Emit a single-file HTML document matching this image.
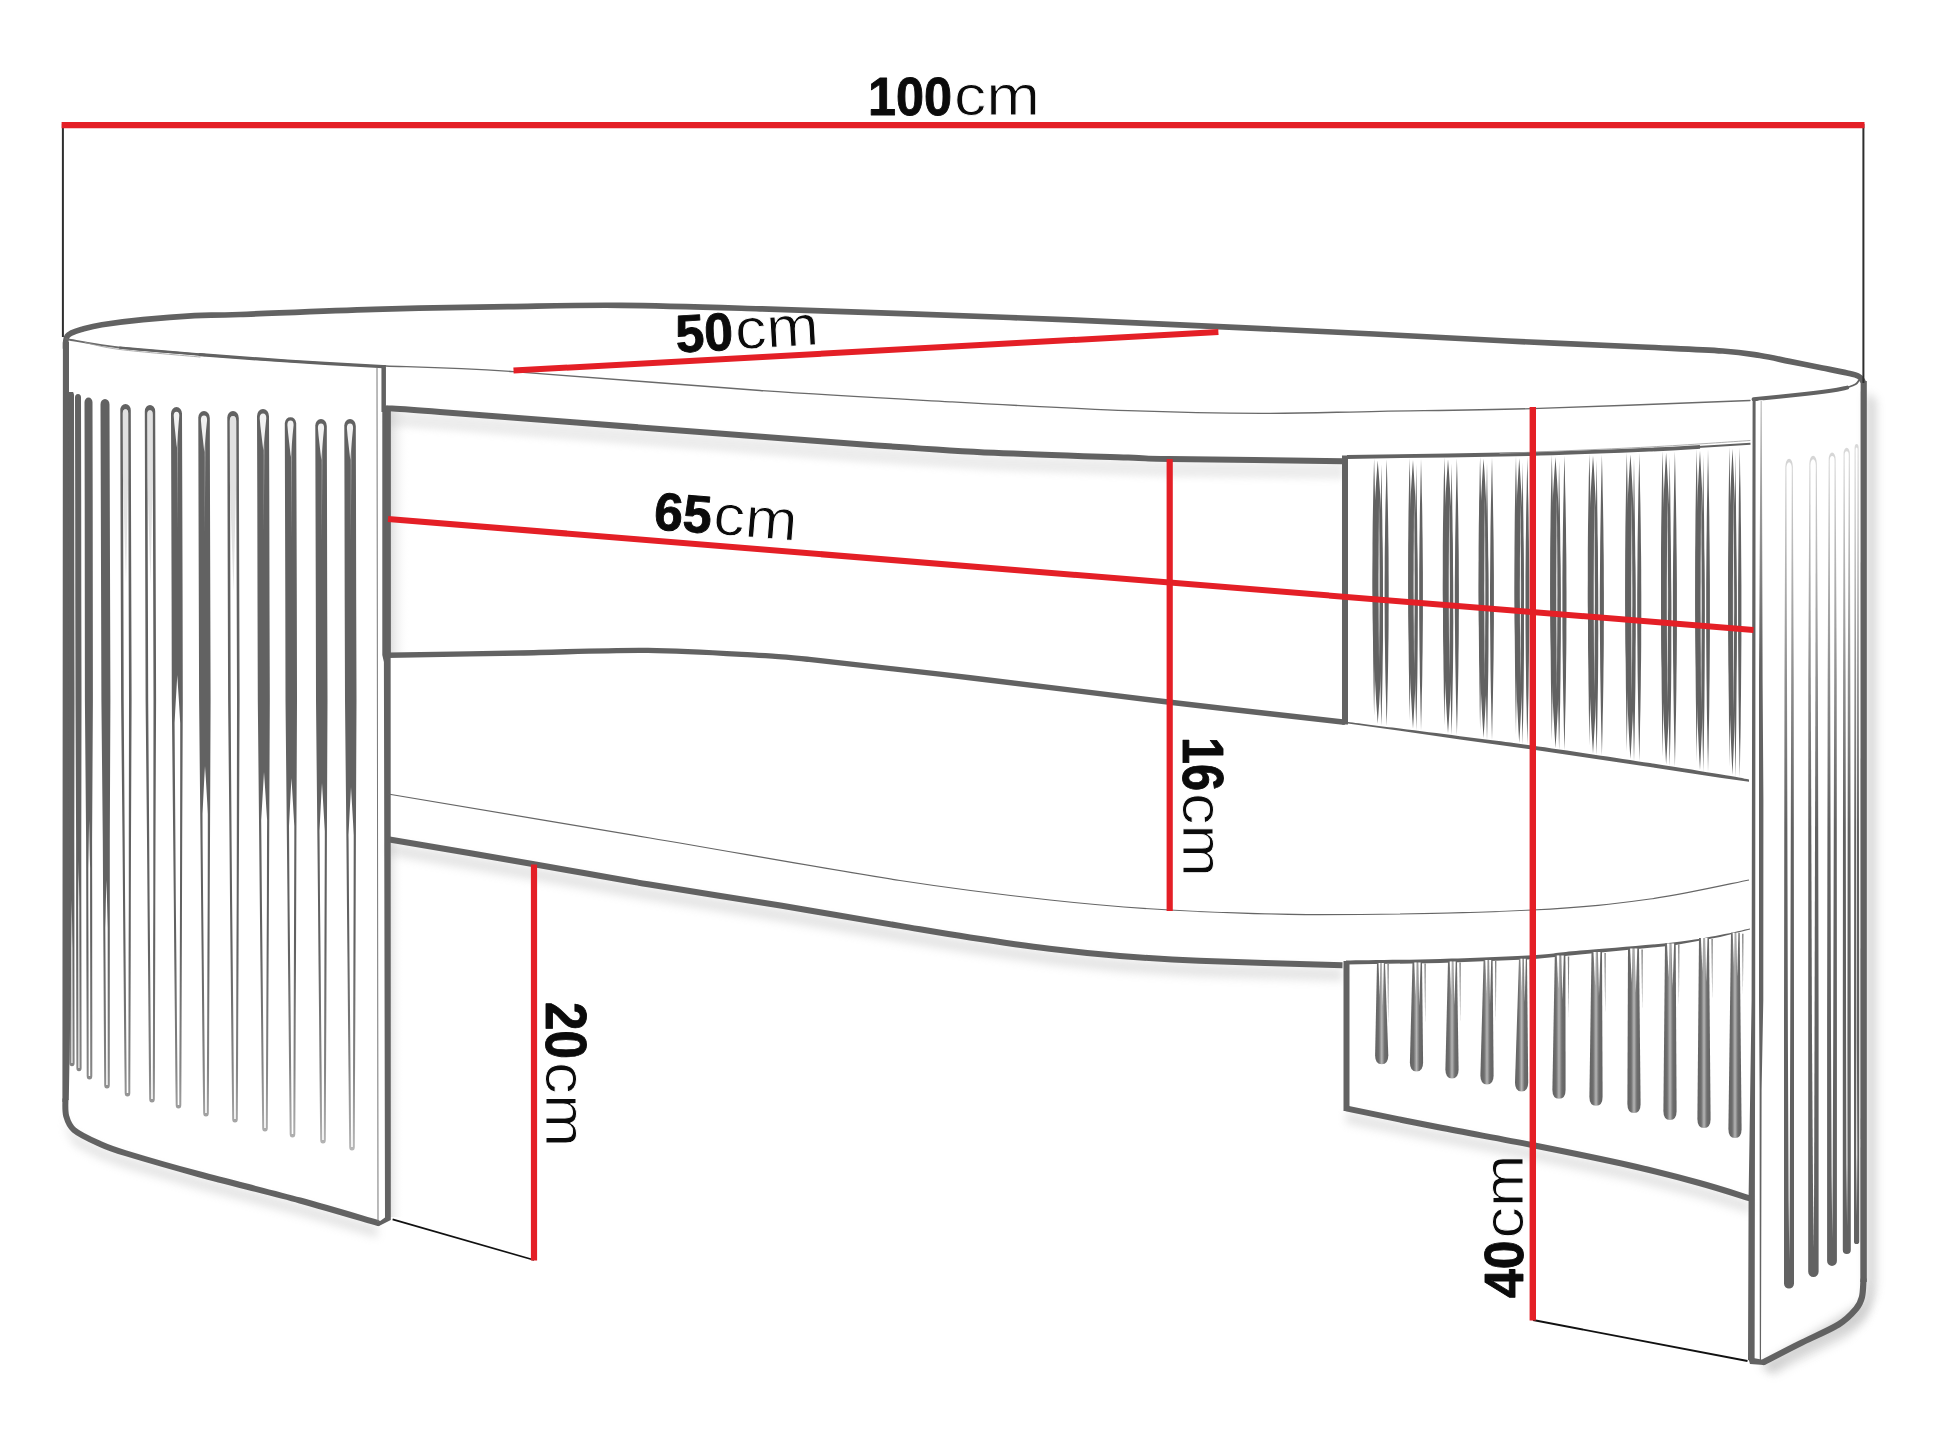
<!DOCTYPE html>
<html><head><meta charset="utf-8"><title>Table dimensions</title>
<style>html,body{margin:0;padding:0;background:#fff;}body{width:1940px;height:1455px;overflow:hidden;font-family:"Liberation Sans",sans-serif;}svg{display:block}</style>
</head><body>
<svg width="1940" height="1455" viewBox="0 0 1940 1455">
<defs>
<linearGradient id="gShR" x1="0" x2="1" y1="0" y2="0"><stop offset="0" stop-color="#8a8a8a" stop-opacity=".55"/><stop offset=".45" stop-color="#b8b8b8" stop-opacity=".25"/><stop offset="1" stop-color="#fff" stop-opacity="0"/></linearGradient>
<linearGradient id="gShL" x1="0" x2="1" y1="0" y2="0"><stop offset="0" stop-color="#999" stop-opacity=".5"/><stop offset="1" stop-color="#fff" stop-opacity="0"/></linearGradient>
<linearGradient id="gShD" x1="0" x2="0" y1="0" y2="1"><stop offset="0" stop-color="#999" stop-opacity=".5"/><stop offset="1" stop-color="#fff" stop-opacity="0"/></linearGradient>
<linearGradient id="fadeL" x1="0" x2="0" y1="380" y2="1160" gradientUnits="userSpaceOnUse"><stop offset="0" stop-color="#fff"/><stop offset=".72" stop-color="#fff"/><stop offset=".88" stop-color="#c8c8c8"/><stop offset="1" stop-color="#6a6a6a"/></linearGradient>
<mask id="mFadeL" maskUnits="userSpaceOnUse" x="60" y="380" width="330" height="800"><rect x="60" y="380" width="330" height="800" fill="url(#fadeL)"/></mask>
<linearGradient id="fadeR" x1="0" x2="0" y1="440" y2="1300" gradientUnits="userSpaceOnUse"><stop offset="0" stop-color="#3a3a3a"/><stop offset=".25" stop-color="#aaa"/><stop offset=".45" stop-color="#fff"/><stop offset="1" stop-color="#fff"/></linearGradient>
<mask id="mFadeR" maskUnits="userSpaceOnUse" x="1770" y="430" width="100" height="880"><rect x="1770" y="430" width="100" height="880" fill="url(#fadeR)"/></mask>
<linearGradient id="gW" x1="0" x2="0" y1="0" y2="1"><stop offset="0" stop-color="#fff" stop-opacity=".6"/><stop offset="1" stop-color="#fff" stop-opacity="0"/></linearGradient>
<linearGradient id="slatLow" x1="0" x2="1" y1="0" y2="0"><stop offset="0" stop-color="#626262"/><stop offset=".28" stop-color="#6e6e6e"/><stop offset=".5" stop-color="#b5b5b5"/><stop offset=".72" stop-color="#6e6e6e"/><stop offset="1" stop-color="#626262"/></linearGradient>
</defs>
<rect width="1940" height="1455" fill="#fff"/>
<path d="M1866,392 L1876,400 L1876,1285 Q1874,1312 1850,1328 L1790,1358 L1770,1372 L1760,1366 L1866,1300 Z" fill="#9a9a9a" opacity=".42" style="filter:blur(5px)"/>
<rect x="390.6" y="412" width="19" height="241" fill="url(#gShL)" opacity=".62"/>
<path d="M386.0,410.2 C395.0,410.8 394.3,410.4 440.0,413.9 C485.7,417.4 590.0,425.6 660.0,431.0 C730.0,436.4 804.3,442.2 860.0,446.2 C915.7,450.2 949.3,452.6 994.0,454.8 C1038.7,457.0 1098.7,458.6 1128.0,459.6 C1157.3,460.6 1134.2,460.4 1170.0,461.0 C1205.8,461.6 1314.2,462.8 1343.0,463.2 L1343,476 L1343.0,479.2 L1170.0,477.0 L1128.0,475.6 L994.0,470.8 L860.0,462.2 L660.0,447.0 L440.0,429.9 L386.0,426.2 Z" fill="#bdbdbd" opacity=".28" style="filter:blur(3px)"/>
<path d="M388.0,842.3 C412.3,846.4 490.7,859.7 534.0,867.2 C577.3,874.7 606.7,880.4 648.0,887.3 C689.3,894.2 740.0,901.9 782.0,908.8 C824.0,915.7 868.7,923.6 900.0,928.9 C931.3,934.2 945.1,936.7 970.0,940.5 C994.9,944.3 1024.5,948.7 1049.5,951.8 C1074.5,954.9 1095.1,957.0 1120.0,959.0 C1144.9,961.0 1161.9,962.3 1199.0,963.8 C1236.1,965.3 1318.6,967.5 1342.5,968.2 L1342.5,981.2 L1199.0,976.8 L1120.0,972.0 L1049.5,964.8 L970.0,953.5 L900.0,941.9 L782.0,921.8 L648.0,900.3 L534.0,880.2 L388.0,855.3 Z" fill="#aaa" opacity=".3" style="filter:blur(4px)"/>
<path d="M1346.0,1111.4 C1361.4,1114.6 1407.6,1124.2 1438.6,1130.3 C1469.6,1136.4 1500.4,1141.7 1532.0,1148.0 C1563.6,1154.3 1600.1,1161.7 1628.0,1168.0 C1655.9,1174.3 1679.0,1180.4 1699.4,1186.0 C1719.8,1191.6 1741.9,1198.9 1750.4,1201.5 L1750.4,1213.5 L1699.4,1198.0 L1628.0,1180.0 L1532.0,1160.0 L1438.6,1142.3 L1346.0,1123.4 Z" fill="#aaa" opacity=".3" style="filter:blur(4px)"/>
<path d="M65.4,1103.0 C65.5,1105.7 64.8,1114.0 66.2,1119.0 C67.6,1124.0 68.7,1128.5 74.0,1133.0 C79.3,1137.5 89.5,1142.2 98.0,1146.0 C106.5,1149.8 108.0,1150.8 125.0,1156.0 C142.0,1161.2 170.8,1169.6 200.0,1177.5 C229.2,1185.4 270.4,1195.4 300.0,1203.5 C329.6,1211.6 364.6,1222.2 377.5,1225.9 L377.5,1237.9 L300.0,1215.5 L200.0,1189.5 L125.0,1168.0 L98.0,1158.0 L74.0,1145.0 L66.2,1131.0 L65.4,1115.0 Z" fill="#aaa" opacity=".3" style="filter:blur(4px)"/>
<path d="M1865.5,1283.0 C1865.2,1285.8 1865.2,1295.2 1864.0,1300.0 C1862.8,1304.8 1861.9,1307.4 1858.0,1312.0 C1854.1,1316.6 1850.1,1321.7 1840.6,1327.5 C1831.1,1333.3 1813.4,1340.8 1801.0,1347.0 C1788.6,1353.2 1771.8,1362.0 1766.0,1365.0 L1772.0,1376.0 L1807.0,1358.0 L1846.6,1338.5 L1864.0,1323.0 L1870.0,1311.0 L1871.5,1294.0 Z" fill="#aaa" opacity=".3" style="filter:blur(4px)"/>
<rect x="390" y="842" width="14" height="375" fill="url(#gShL)" opacity=".55"/>
<path d="M65.6,348.0 C65.6,346.8 65.5,343.0 65.8,341.0 C66.1,339.0 66.3,337.5 67.2,336.2 C68.1,334.9 68.7,334.3 71.0,333.2 C73.3,332.1 76.0,330.8 81.2,329.4 C86.4,328.0 91.6,326.3 101.9,324.7 C112.2,323.1 127.5,321.1 143.0,319.6 C158.4,318.1 178.4,316.5 194.6,315.6 C210.8,314.8 210.1,315.6 240.0,314.5 C269.9,313.4 329.3,310.6 374.0,309.3 C418.7,308.0 466.8,307.3 508.0,306.6 C549.2,305.9 579.0,304.9 621.0,305.3 C663.0,305.7 695.2,306.8 760.0,308.8 C824.8,310.8 930.0,314.4 1010.0,317.5 C1090.0,320.6 1179.3,324.9 1240.0,327.6 C1300.7,330.4 1329.3,331.8 1374.0,334.0 C1418.7,336.2 1463.3,338.8 1508.0,341.0 C1552.7,343.2 1606.2,345.3 1642.0,347.0 C1677.8,348.7 1702.9,349.6 1722.6,351.0 C1742.3,352.4 1748.8,353.8 1760.0,355.5 C1771.2,357.2 1779.1,359.3 1789.5,361.4 C1799.9,363.5 1812.9,366.1 1822.5,368.0 C1832.1,369.9 1841.2,371.6 1847.2,373.0 C1853.2,374.4 1855.9,374.9 1858.5,376.2 C1861.1,377.5 1861.9,380.0 1862.6,380.8" fill="none" stroke="#626262" stroke-width="5.7" stroke-linecap="round" stroke-linejoin="round" />
<path d="M67.0,338.5 C67.7,338.8 61.8,338.4 71.0,340.0 C80.2,341.6 100.2,345.5 122.5,348.0 C144.8,350.5 177.5,352.8 205.0,355.0 C232.5,357.2 257.7,359.1 287.4,361.0 C317.1,362.9 367.1,365.7 383.0,366.6" fill="none" stroke="#6a6a6a" stroke-width="1.8" stroke-linecap="round" stroke-linejoin="round" />
<path d="M200.0,354.6 C214.6,355.7 256.9,359.0 287.4,361.0 C317.9,363.0 367.1,365.7 383.0,366.6" fill="none" stroke="#626262" stroke-width="3.2" stroke-linecap="round" stroke-linejoin="round" />
<path d="M120.0,347.6 L205.0,355.0" fill="none" stroke="#626262" stroke-width="2.4" stroke-linecap="round" stroke-linejoin="round" />
<path d="M386.0,366.0 C407.2,366.9 451.2,367.5 513.5,371.6 C575.8,375.7 687.2,385.5 760.0,390.5 C832.8,395.5 888.7,398.4 950.0,401.8 C1011.3,405.2 1076.0,408.8 1128.0,410.7 C1180.0,412.6 1220.0,413.3 1262.0,413.4 C1304.0,413.5 1335.0,412.1 1380.0,411.3 C1425.0,410.5 1470.3,410.4 1532.0,408.6 C1593.7,406.8 1713.7,401.9 1750.0,400.5" fill="none" stroke="#6a6a6a" stroke-width="1.3" stroke-linecap="round" stroke-linejoin="round" />
<path d="M1753.6,399.3 C1760.9,398.6 1784.8,396.2 1797.7,394.8 C1810.6,393.4 1822.5,391.9 1830.7,390.7 C1839.0,389.5 1844.5,388.1 1847.2,387.6" fill="none" stroke="#626262" stroke-width="4" stroke-linecap="round" stroke-linejoin="round" />
<path d="M1847.2,387.6 C1848.6,387.1 1853.6,385.5 1855.5,384.3 C1857.4,383.1 1858.2,381.2 1858.8,380.6" fill="none" stroke="#626262" stroke-width="1.8" stroke-linecap="round" stroke-linejoin="round" />
<path d="M85.0,342.5 C90.8,343.7 100.8,347.1 120.0,349.5 C139.2,351.9 186.7,355.8 200.0,357.0" fill="none" stroke="#999" stroke-width="0.8" stroke-linecap="round" stroke-linejoin="round" />
<path d="M62.9,342 L69,342 L69,392 L73.3,392 L73.3,850 L70.5,1000 L68.8,1100 L62.4,1102 Z" fill="#626262"/>
<path d="M65.4,1100.0 C65.5,1102.7 64.8,1111.0 66.2,1116.0 C67.6,1121.0 68.7,1125.5 74.0,1130.0 C79.3,1134.5 89.5,1139.2 98.0,1143.0 C106.5,1146.8 108.0,1147.8 125.0,1153.0 C142.0,1158.2 170.8,1166.6 200.0,1174.5 C229.2,1182.4 270.4,1192.4 300.0,1200.5 C329.6,1208.6 364.6,1219.2 377.5,1222.9" fill="none" stroke="#626262" stroke-width="6" stroke-linecap="round" stroke-linejoin="round" />
<line x1="383.7" y1="365" x2="383.7" y2="412" stroke="#626262" stroke-width="4.5" stroke-linecap="butt" />
<path d="M382.3,408 L390.6,408 L390.8,1220 L378.5,1226.3 L376,1224 L385,1217.5 L383.9,662 L382.3,655 Z" fill="#626262"/>
<line x1="377" y1="368" x2="378" y2="1222" stroke="#777" stroke-width="1" stroke-linecap="butt" />
<g mask="url(#mFadeL)">
<path d="M68.0,395.6 A3.0,3.6 0 0 1 74.0,395.6 L74.2,500.0 L74.3,600.0 L74.5,700.0 L74.4,770.0 L74.3,840.0 L74.4,900.0 L74.4,960.0 L74.5,1020.0 L74.6,1063.0 A2.4,3 0 0 1 69.4,1063.0 L69.3,1020.0 L69.2,960.0 L69.2,900.0 L69.1,840.0 L68.8,770.0 L68.5,700.0 L68.3,600.0 L68.2,500.0 L68.0,395.6 Z" fill="#626262"/>
<path d="M71.8,900.0 L71.9,912.0 L72.1,924.0 L72.2,936.0 L72.4,948.0 L72.4,960.0 L72.5,1020.0 L72.5,1063.0 L71.4,1063.0 L71.4,1020.0 L71.3,960.0 L71.3,948.0 L71.4,936.0 L71.5,924.0 L71.6,912.0 Z" fill="#fff"/>
<path d="M75.0,397.6 A3.0,3.6 0 0 1 81.0,397.6 L81.2,500.0 L81.3,600.0 L81.5,700.0 L81.4,770.0 L81.3,840.0 L81.3,900.0 L81.4,960.0 L81.5,1020.0 L81.6,1068.0 A2.4,3 0 0 1 76.4,1068.0 L76.3,1020.0 L76.2,960.0 L76.1,900.0 L76.1,840.0 L75.8,770.0 L75.5,700.0 L75.3,600.0 L75.2,500.0 L75.0,397.6 Z" fill="#626262"/>
<path d="M78.7,860.0 L78.8,872.0 L79.0,884.0 L79.2,896.0 L79.3,908.0 L79.4,960.0 L79.5,1020.0 L79.5,1068.0 L78.4,1068.0 L78.4,1020.0 L78.3,960.0 L78.2,908.0 L78.3,896.0 L78.4,884.0 L78.6,872.0 Z" fill="#fff"/>
<path d="M84.5,402.3 A4.0,4.8 0 0 1 92.5,402.3 L92.7,500.0 L92.8,600.0 L92.9,700.0 L92.5,770.0 L92.1,840.0 L92.2,900.0 L92.2,960.0 L92.3,1020.0 L92.3,1076.0 A2.4,3 0 0 1 86.7,1076.0 L86.6,1020.0 L86.4,960.0 L86.3,900.0 L86.1,840.0 L85.5,770.0 L84.9,700.0 L84.8,600.0 L84.7,500.0 L84.5,402.3 Z" fill="#626262"/>
<path d="M89.1,820.0 L89.4,832.0 L89.6,844.0 L89.8,856.0 L90.1,868.0 L90.1,900.0 L90.2,960.0 L90.2,1020.0 L90.2,1076.0 L88.7,1076.0 L88.6,1020.0 L88.5,960.0 L88.3,900.0 L88.3,868.0 L88.5,856.0 L88.7,844.0 L88.9,832.0 Z" fill="#fff"/>
<path d="M100.5,404.4 A4.5,5.4 0 0 1 109.5,404.4 L109.8,500.0 L110.1,600.0 L110.4,700.0 L110.1,770.0 L109.8,840.0 L109.8,900.0 L109.8,960.0 L109.8,1020.0 L109.8,1080.0 L109.8,1085.0 A2.4,3 0 0 1 104.2,1085.0 L104.2,1080.0 L103.8,1020.0 L103.5,960.0 L103.1,900.0 L102.8,840.0 L102.1,770.0 L101.4,700.0 L101.1,600.0 L100.8,500.0 L100.5,404.4 Z" fill="#626262"/>
<path d="M106.4,880.0 L106.8,892.0 L107.1,904.0 L107.4,916.0 L107.7,928.0 L107.7,960.0 L107.7,1020.0 L107.7,1080.0 L107.7,1085.0 L106.2,1085.0 L106.2,1080.0 L105.9,1020.0 L105.5,960.0 L105.3,928.0 L105.6,916.0 L105.8,904.0 L106.1,892.0 Z" fill="#fff"/>
<path d="M120.2,410.3 A5.2,6.3 0 0 1 130.8,410.3 L131.0,500.0 L131.3,600.0 L131.6,700.0 L131.3,770.0 L131.0,840.0 L130.8,900.0 L130.7,960.0 L130.5,1020.0 L130.3,1080.0 L130.3,1093.0 A2.4,3 0 0 1 124.7,1093.0 L124.6,1080.0 L124.0,1020.0 L123.5,960.0 L123.0,900.0 L122.5,840.0 L121.8,770.0 L121.1,700.0 L120.8,600.0 L120.5,500.0 L120.3,410.3 Z" fill="#626262"/>
<path d="M122.8,413.3 A2.6,4.0 0 0 1 128.2,413.3 L128.4,500.0 L128.7,600.0 L129.0,700.0 L128.9,770.0 L128.8,840.0 L128.8,900.0 L128.6,960.0 L128.5,1020.0 L128.3,1080.0 L128.3,1093.0 L126.7,1093.0 L126.6,1080.0 L126.1,1020.0 L125.6,960.0 L125.1,900.0 L124.7,840.0 L124.2,770.0 L123.7,700.0 L123.4,600.0 L123.1,500.0 Z" fill="#fff"/>
<path d="M122.8,413.3 A2.6,4.0 0 0 1 128.2,413.3 L128.2,473.3 L126.0,583.3 L122.8,473.3 Z" fill="#c9c9c9" opacity=".55"/>
<path d="M144.8,411.3 A5.2,6.3 0 0 1 155.2,411.3 L155.5,500.0 L155.8,600.0 L156.1,700.0 L155.8,770.0 L155.5,840.0 L155.3,900.0 L155.2,960.0 L155.0,1020.0 L154.9,1080.0 L154.8,1099.0 A2.4,3 0 0 1 149.2,1099.0 L149.0,1080.0 L148.5,1020.0 L148.0,960.0 L147.5,900.0 L147.0,840.0 L146.3,770.0 L145.6,700.0 L145.3,600.0 L145.0,500.0 L144.8,411.3 Z" fill="#626262"/>
<path d="M147.3,414.3 A2.6,4.0 0 0 1 152.7,414.3 L152.9,500.0 L153.2,600.0 L153.5,700.0 L153.4,770.0 L153.3,840.0 L153.3,900.0 L153.1,960.0 L153.0,1020.0 L152.8,1080.0 L152.8,1099.0 L151.2,1099.0 L151.1,1080.0 L150.6,1020.0 L150.1,960.0 L149.6,900.0 L149.2,840.0 L148.7,770.0 L148.2,700.0 L147.9,600.0 L147.6,500.0 Z" fill="#fff"/>
<path d="M147.3,414.3 A2.6,4.0 0 0 1 152.7,414.3 L152.7,474.3 L150.5,584.3 L147.3,474.3 Z" fill="#c9c9c9" opacity=".55"/>
<path d="M171.0,413.6 A5.5,6.6 0 0 1 182.0,413.6 L182.3,500.0 L182.6,600.0 L182.8,700.0 L182.5,770.0 L182.2,840.0 L182.0,900.0 L181.8,960.0 L181.6,1020.0 L181.4,1080.0 L181.3,1105.0 A2.4,3 0 0 1 175.7,1105.0 L175.4,1080.0 L174.9,1020.0 L174.3,960.0 L173.8,900.0 L173.2,840.0 L172.5,770.0 L171.8,700.0 L171.6,600.0 L171.3,500.0 L171.0,413.6 Z" fill="#626262"/>
<path d="M177.3,675.0 L178.0,687.0 L178.8,699.0 L179.5,711.0 L180.2,723.0 L180.2,770.0 L180.1,840.0 L180.0,900.0 L179.8,960.0 L179.6,1020.0 L179.3,1080.0 L179.3,1105.0 L177.7,1105.0 L177.5,1080.0 L176.9,1020.0 L176.4,960.0 L175.8,900.0 L175.4,840.0 L174.9,770.0 L174.6,723.0 L175.2,711.0 L175.9,699.0 L176.6,687.0 Z" fill="#fff"/>
<path d="M177.0,415.0 L178.1,447.0 L177.1,527.0 Z" fill="#9a9a9a"/>
<path d="M173.7,415.6 A2.8,3.9 0 0 1 179.3,415.6 L178.5,425.6 L176.8,447.6 L174.3,423.6 Z" fill="#f2f2f2"/>
<path d="M198.2,417.9 A5.8,6.9 0 0 1 209.8,417.9 L210.0,500.0 L210.3,600.0 L210.6,700.0 L210.3,770.0 L210.0,840.0 L209.7,900.0 L209.5,960.0 L209.2,1020.0 L209.0,1080.0 L208.8,1113.0 A2.4,3 0 0 1 203.2,1113.0 L202.8,1080.0 L202.2,1020.0 L201.7,960.0 L201.1,900.0 L200.5,840.0 L199.8,770.0 L199.1,700.0 L198.8,600.0 L198.5,500.0 L198.3,417.9 Z" fill="#626262"/>
<path d="M205.0,766.0 L205.8,778.0 L206.5,790.0 L207.2,802.0 L207.8,814.0 L207.8,840.0 L207.7,900.0 L207.4,960.0 L207.2,1020.0 L206.9,1080.0 L206.8,1113.0 L205.2,1113.0 L204.9,1080.0 L204.3,1020.0 L203.7,960.0 L203.1,900.0 L202.6,840.0 L202.5,814.0 L203.1,802.0 L203.7,790.0 L204.3,778.0 Z" fill="#fff"/>
<path d="M204.5,419.0 L205.6,451.0 L204.6,531.0 Z" fill="#9a9a9a"/>
<path d="M200.9,419.9 A3.0,4.3 0 0 1 207.1,419.9 L206.1,429.9 L204.3,451.9 L201.6,427.9 Z" fill="#f2f2f2"/>
<path d="M227.2,417.9 A5.8,6.9 0 0 1 238.8,417.9 L239.0,500.0 L239.3,600.0 L239.6,700.0 L239.3,770.0 L239.0,840.0 L238.7,900.0 L238.5,960.0 L238.2,1020.0 L238.0,1080.0 L237.8,1119.0 A2.4,3 0 0 1 232.2,1119.0 L231.8,1080.0 L231.2,1020.0 L230.6,960.0 L230.0,900.0 L229.5,840.0 L228.8,770.0 L228.1,700.0 L227.8,600.0 L227.5,500.0 L227.3,417.9 Z" fill="#626262"/>
<path d="M229.8,420.9 A3.1,4.7 0 0 1 236.2,420.9 L236.4,500.0 L236.7,600.0 L237.0,700.0 L236.9,770.0 L236.8,840.0 L236.7,900.0 L236.4,960.0 L236.2,1020.0 L235.9,1080.0 L235.8,1119.0 L234.2,1119.0 L233.8,1080.0 L233.3,1020.0 L232.7,960.0 L232.1,900.0 L231.6,840.0 L231.1,770.0 L230.7,700.0 L230.4,600.0 L230.1,500.0 Z" fill="#fff"/>
<path d="M229.8,420.9 A3.1,4.7 0 0 1 236.2,420.9 L236.2,480.9 L233.5,590.9 L229.8,480.9 Z" fill="#c9c9c9" opacity=".55"/>
<path d="M257.0,416.2 A6.0,7.2 0 0 1 269.0,416.2 L269.3,500.0 L269.5,600.0 L269.8,700.0 L269.5,770.0 L269.2,840.0 L268.9,900.0 L268.6,960.0 L268.3,1020.0 L268.0,1080.0 L267.8,1128.0 A2.4,3 0 0 1 262.2,1128.0 L261.7,1080.0 L261.1,1020.0 L260.4,960.0 L259.8,900.0 L259.2,840.0 L258.5,770.0 L257.8,700.0 L257.5,600.0 L257.3,500.0 L257.0,416.2 Z" fill="#626262"/>
<path d="M264.0,772.0 L264.8,784.0 L265.6,796.0 L266.3,808.0 L267.1,820.0 L267.0,840.0 L266.9,900.0 L266.6,960.0 L266.3,1020.0 L266.0,1080.0 L265.8,1128.0 L264.2,1128.0 L263.7,1080.0 L263.1,1020.0 L262.5,960.0 L261.9,900.0 L261.4,840.0 L261.2,820.0 L261.9,808.0 L262.6,796.0 L263.3,784.0 Z" fill="#fff"/>
<path d="M263.5,417.0 L264.6,449.0 L263.6,529.0 Z" fill="#9a9a9a"/>
<path d="M259.7,418.2 A3.3,4.6 0 0 1 266.3,418.2 L265.3,428.2 L263.3,450.2 L260.4,426.2 Z" fill="#f2f2f2"/>
<path d="M284.8,422.9 A5.8,6.9 0 0 1 296.2,422.9 L296.5,500.0 L296.8,600.0 L297.0,700.0 L296.7,770.0 L296.4,840.0 L296.2,900.0 L296.0,960.0 L295.7,1020.0 L295.5,1080.0 L295.3,1134.0 A2.4,3 0 0 1 289.7,1134.0 L289.2,1080.0 L288.6,1020.0 L288.0,960.0 L287.5,900.0 L286.9,840.0 L286.2,770.0 L285.5,700.0 L285.3,600.0 L285.0,500.0 L284.8,422.9 Z" fill="#626262"/>
<path d="M291.5,778.0 L292.2,790.0 L292.9,802.0 L293.6,814.0 L294.3,826.0 L294.3,840.0 L294.1,900.0 L293.9,960.0 L293.7,1020.0 L293.5,1080.0 L293.3,1134.0 L291.7,1134.0 L291.2,1080.0 L290.7,1020.0 L290.1,960.0 L289.5,900.0 L289.1,840.0 L289.0,826.0 L289.6,814.0 L290.2,802.0 L290.8,790.0 Z" fill="#fff"/>
<path d="M291.0,424.0 L292.1,456.0 L291.1,536.0 Z" fill="#9a9a9a"/>
<path d="M287.4,424.9 A3.0,4.3 0 0 1 293.6,424.9 L292.6,434.9 L290.8,456.9 L288.1,432.9 Z" fill="#f2f2f2"/>
<path d="M315.2,425.9 A5.8,6.9 0 0 1 326.8,425.9 L327.0,500.0 L327.2,600.0 L327.5,700.0 L327.2,770.0 L326.9,840.0 L326.7,900.0 L326.5,960.0 L326.3,1020.0 L326.0,1080.0 L325.8,1140.0 A2.4,3 0 0 1 320.2,1140.0 L319.6,1080.0 L319.1,1020.0 L318.5,960.0 L318.0,900.0 L317.4,840.0 L316.7,770.0 L316.0,700.0 L315.8,600.0 L315.5,500.0 L315.3,425.9 Z" fill="#626262"/>
<path d="M322.0,783.0 L322.7,795.0 L323.4,807.0 L324.1,819.0 L324.8,831.0 L324.8,840.0 L324.6,900.0 L324.4,960.0 L324.2,1020.0 L324.0,1080.0 L323.8,1140.0 L322.2,1140.0 L321.7,1080.0 L321.1,1020.0 L320.6,960.0 L320.0,900.0 L319.6,840.0 L319.5,831.0 L320.1,819.0 L320.7,807.0 L321.3,795.0 Z" fill="#fff"/>
<path d="M321.5,427.0 L322.6,459.0 L321.6,539.0 Z" fill="#9a9a9a"/>
<path d="M317.9,427.9 A3.0,4.3 0 0 1 324.1,427.9 L323.1,437.9 L321.3,459.9 L318.6,435.9 Z" fill="#f2f2f2"/>
<path d="M344.2,425.9 A5.8,6.9 0 0 1 355.8,425.9 L356.0,500.0 L356.2,600.0 L356.5,700.0 L356.2,770.0 L355.9,840.0 L355.7,900.0 L355.5,960.0 L355.3,1020.0 L355.0,1080.0 L354.8,1147.0 A2.4,3 0 0 1 349.2,1147.0 L348.6,1080.0 L348.0,1020.0 L347.5,960.0 L346.9,900.0 L346.4,840.0 L345.7,770.0 L345.0,700.0 L344.7,600.0 L344.5,500.0 L344.3,425.9 Z" fill="#626262"/>
<path d="M351.0,787.0 L351.7,799.0 L352.4,811.0 L353.1,823.0 L353.7,835.0 L353.7,840.0 L353.6,900.0 L353.4,960.0 L353.2,1020.0 L353.0,1080.0 L352.8,1147.0 L351.2,1147.0 L350.6,1080.0 L350.1,1020.0 L349.5,960.0 L349.0,900.0 L348.6,840.0 L348.5,835.0 L349.1,823.0 L349.7,811.0 L350.4,799.0 Z" fill="#fff"/>
<path d="M350.5,427.0 L351.6,459.0 L350.6,539.0 Z" fill="#9a9a9a"/>
<path d="M346.9,427.9 A3.0,4.3 0 0 1 353.1,427.9 L352.1,437.9 L350.3,459.9 L347.6,435.9 Z" fill="#f2f2f2"/>
</g>
<path d="M386.0,408.2 C395.0,408.8 394.3,408.4 440.0,411.9 C485.7,415.4 590.0,423.6 660.0,429.0 C730.0,434.4 804.3,440.2 860.0,444.2 C915.7,448.2 949.3,450.6 994.0,452.8 C1038.7,455.0 1098.7,456.6 1128.0,457.6 C1157.3,458.6 1134.2,458.4 1170.0,459.0 C1205.8,459.6 1314.2,460.8 1343.0,461.2 L1345,722 L1345.0,722.3 L1168.0,702.0 L970.0,677.7 L809.0,659.4 L758.6,655.4 L648.0,650.4 L520.0,653.0 L388.0,655.2 Z" fill="none"/>
<path d="M386.0,408.2 C395.0,408.8 394.3,408.4 440.0,411.9 C485.7,415.4 590.0,423.6 660.0,429.0 C730.0,434.4 804.3,440.2 860.0,444.2 C915.7,448.2 949.3,450.6 994.0,452.8 C1038.7,455.0 1098.7,456.6 1128.0,457.6 C1157.3,458.6 1134.2,458.4 1170.0,459.0 C1205.8,459.6 1314.2,460.8 1343.0,461.2" fill="none" stroke="#626262" stroke-width="6" stroke-linecap="butt" stroke-linejoin="round" />
<path d="M388.0,655.2 C410.0,654.8 476.7,653.8 520.0,653.0 C563.3,652.2 608.2,650.0 648.0,650.4 C687.8,650.8 731.8,653.9 758.6,655.4 C785.4,656.9 773.8,655.7 809.0,659.4 C844.2,663.1 910.2,670.6 970.0,677.7 C1029.8,684.8 1105.5,694.6 1168.0,702.0 C1230.5,709.4 1315.5,718.9 1345.0,722.3" fill="none" stroke="#626262" stroke-width="5.4" stroke-linecap="butt" stroke-linejoin="round" />
<line x1="1345" y1="455.5" x2="1345" y2="724.5" stroke="#626262" stroke-width="6" stroke-linecap="butt" />
<line x1="387.9" y1="406" x2="387.9" y2="657" stroke="#626262" stroke-width="5.6" stroke-linecap="butt" />
<path d="M1347.0,457.0 C1377.3,456.5 1478.7,455.2 1529.0,454.0 C1579.3,452.8 1620.5,450.9 1649.0,449.7 C1677.5,448.5 1691.5,447.3 1700.0,446.8" fill="none" stroke="#626262" stroke-width="3.8" stroke-linecap="butt" stroke-linejoin="round" />
<path d="M1690.0,447.4 L1750.5,443.7" fill="none" stroke="#626262" stroke-width="2" stroke-linecap="butt" stroke-linejoin="round" />
<path d="M1500.0,453.5 C1524.8,452.4 1607.3,449.2 1649.0,447.0 C1690.7,444.8 1733.2,441.6 1750.0,440.5" fill="none" stroke="#999" stroke-width="0.8" stroke-linecap="round" stroke-linejoin="round" />
<path d="M1346.0,721.8 C1355.0,722.9 1381.0,726.2 1400.0,728.6 C1419.0,731.0 1438.0,733.4 1460.0,736.2 C1482.0,739.0 1500.3,740.9 1532.0,745.4 C1563.7,749.9 1618.7,758.2 1650.0,763.0 C1681.3,767.8 1703.5,771.5 1720.0,774.3 C1736.5,777.0 1744.2,778.6 1749.0,779.5 L1749.0,781.7 L1720.0,777.7 L1650.0,767.0 L1532.0,749.4 L1460.0,739.4 L1400.0,730.8 L1346.0,723.2 Z" fill="#626262"/>
<path d="M1377.7,460.5 L1378.6,471.5 L1379.4,482.4 L1380.1,493.4 L1380.7,504.4 L1381.2,515.3 L1381.7,526.3 L1382.1,537.3 L1382.4,548.2 L1382.6,559.2 L1382.8,570.2 L1382.8,581.2 L1382.9,592.1 L1382.8,603.1 L1382.7,614.1 L1382.5,625.0 L1382.2,636.0 L1381.9,647.0 L1381.5,657.9 L1381.0,668.9 L1380.5,679.9 L1379.9,690.8 L1379.3,701.8 L1378.5,712.8 L1377.7,723.7 L1377.7,723.7 L1377.0,712.8 L1376.2,701.8 L1375.6,690.8 L1375.0,679.9 L1374.5,668.9 L1374.0,657.9 L1373.6,647.0 L1373.3,636.0 L1373.0,625.0 L1372.8,614.1 L1372.7,603.1 L1372.6,592.1 L1372.6,581.2 L1372.7,570.2 L1372.9,559.2 L1373.1,548.2 L1373.4,537.3 L1373.8,526.3 L1374.3,515.3 L1374.8,504.4 L1375.4,493.4 L1376.1,482.4 L1376.9,471.5 L1377.7,460.5 Z" fill="#626262"/>
<path d="M1374.1,458.5 L1374.4,469.2 L1374.7,479.9 L1374.9,490.7 L1375.1,501.4 L1375.3,512.1 L1375.5,522.8 L1375.6,533.5 L1375.7,544.2 L1375.8,555.0 L1375.8,565.7 L1375.7,576.4 L1375.7,587.1 L1375.6,597.8 L1375.6,608.6 L1375.5,619.3 L1375.4,630.0 L1375.3,640.7 L1375.1,651.4 L1375.0,662.2 L1374.8,672.9 L1374.7,683.6 L1374.5,694.3 L1374.3,705.0 L1374.1,715.7 L1374.1,715.7 L1373.9,705.0 L1373.7,694.3 L1373.5,683.6 L1373.4,672.9 L1373.2,662.2 L1373.1,651.4 L1373.0,640.7 L1372.8,630.0 L1372.7,619.3 L1372.7,608.6 L1372.6,597.8 L1372.5,587.1 L1372.5,576.4 L1372.5,565.7 L1372.5,555.0 L1372.5,544.2 L1372.6,533.5 L1372.7,522.8 L1372.9,512.1 L1373.1,501.4 L1373.3,490.7 L1373.5,479.9 L1373.8,469.2 L1374.1,458.5 Z" fill="#626262"/>
<path d="M1381.4,464.5 L1381.6,475.4 L1381.8,486.3 L1381.9,497.2 L1382.1,508.0 L1382.3,518.9 L1382.4,529.8 L1382.5,540.7 L1382.6,551.6 L1382.7,562.5 L1382.8,573.4 L1382.9,584.2 L1383.0,595.1 L1383.0,606.0 L1383.0,616.9 L1383.0,627.8 L1383.0,638.7 L1382.9,649.5 L1382.7,660.4 L1382.6,671.3 L1382.4,682.2 L1382.2,693.1 L1381.9,704.0 L1381.7,714.9 L1381.4,725.7 L1381.4,725.7 L1381.1,714.9 L1380.8,704.0 L1380.6,693.1 L1380.4,682.2 L1380.2,671.3 L1380.0,660.4 L1379.9,649.5 L1379.8,638.7 L1379.7,627.8 L1379.7,616.9 L1379.7,606.0 L1379.8,595.1 L1379.8,584.2 L1379.9,573.4 L1380.0,562.5 L1380.1,551.6 L1380.2,540.7 L1380.4,529.8 L1380.5,518.9 L1380.6,508.0 L1380.8,497.2 L1381.0,486.3 L1381.2,475.4 L1381.4,464.5 Z" fill="#626262"/>
<path d="M1379.1,498.5 L1379.1,505.5 L1379.2,512.4 L1379.3,519.4 L1379.3,526.4 L1379.4,533.3 L1379.5,540.3 L1379.5,547.3 L1379.6,554.2 L1379.6,561.2 L1379.7,568.2 L1379.7,575.2 L1379.7,582.1 L1379.7,589.1 L1379.7,596.1 L1379.6,603.0 L1379.6,610.0 L1379.5,617.0 L1379.5,623.9 L1379.4,630.9 L1379.3,637.9 L1379.3,644.8 L1379.2,651.8 L1379.1,658.8 L1379.1,665.7 L1379.1,665.7 L1379.0,658.8 L1378.9,651.8 L1378.9,644.8 L1378.8,637.9 L1378.7,630.9 L1378.7,623.9 L1378.6,617.0 L1378.6,610.0 L1378.5,603.0 L1378.5,596.1 L1378.4,589.1 L1378.4,582.1 L1378.4,575.2 L1378.5,568.2 L1378.5,561.2 L1378.6,554.2 L1378.6,547.3 L1378.7,540.3 L1378.7,533.3 L1378.8,526.4 L1378.9,519.4 L1378.9,512.4 L1379.0,505.5 L1379.1,498.5 Z" fill="#fff" opacity=".85"/>
<path d="M1386.7,459.3 L1387.0,470.5 L1387.3,481.6 L1387.5,492.7 L1387.8,503.8 L1388.0,514.9 L1388.2,526.0 L1388.3,537.1 L1388.5,548.2 L1388.6,559.3 L1388.6,570.4 L1388.7,581.5 L1388.7,592.6 L1388.7,603.8 L1388.6,614.9 L1388.6,626.0 L1388.5,637.1 L1388.3,648.2 L1388.2,659.3 L1388.0,670.4 L1387.8,681.5 L1387.5,692.6 L1387.3,703.7 L1387.0,714.8 L1386.7,725.9 L1386.7,725.9 L1386.3,714.8 L1386.1,703.7 L1385.8,692.6 L1385.5,681.5 L1385.3,670.4 L1385.1,659.3 L1385.0,648.2 L1384.8,637.1 L1384.7,626.0 L1384.7,614.9 L1384.6,603.8 L1384.6,592.6 L1384.6,581.5 L1384.7,570.4 L1384.7,559.3 L1384.8,548.2 L1385.0,537.1 L1385.1,526.0 L1385.3,514.9 L1385.5,503.8 L1385.8,492.7 L1386.1,481.6 L1386.3,470.5 L1386.7,459.3 Z" fill="#626262"/>
<path d="M1413.0,459.9 L1413.7,471.1 L1414.4,482.3 L1415.1,493.5 L1415.6,504.7 L1416.1,515.9 L1416.5,527.1 L1416.9,538.2 L1417.2,549.4 L1417.4,560.6 L1417.5,571.8 L1417.6,583.0 L1417.6,594.2 L1417.5,605.4 L1417.4,616.6 L1417.2,627.8 L1417.0,638.9 L1416.7,650.1 L1416.3,661.3 L1415.9,672.5 L1415.5,683.7 L1414.9,694.9 L1414.3,706.1 L1413.7,717.3 L1413.0,728.5 L1413.0,728.5 L1412.2,717.3 L1411.6,706.1 L1411.0,694.9 L1410.4,683.7 L1410.0,672.5 L1409.6,661.3 L1409.2,650.1 L1408.9,638.9 L1408.7,627.8 L1408.5,616.6 L1408.4,605.4 L1408.3,594.2 L1408.3,583.0 L1408.4,571.8 L1408.5,560.6 L1408.7,549.4 L1409.0,538.2 L1409.4,527.1 L1409.8,515.9 L1410.3,504.7 L1410.8,493.5 L1411.5,482.3 L1412.2,471.1 L1413.0,459.9 Z" fill="#626262"/>
<path d="M1409.7,457.9 L1409.9,468.9 L1410.2,479.8 L1410.4,490.7 L1410.6,501.7 L1410.8,512.6 L1410.9,523.6 L1411.0,534.5 L1411.1,545.4 L1411.1,556.4 L1411.1,567.3 L1411.1,578.2 L1411.1,589.2 L1411.0,600.1 L1411.0,611.1 L1410.9,622.0 L1410.8,632.9 L1410.7,643.9 L1410.6,654.8 L1410.5,665.8 L1410.3,676.7 L1410.2,687.6 L1410.0,698.6 L1409.8,709.5 L1409.7,720.5 L1409.7,720.5 L1409.5,709.5 L1409.3,698.6 L1409.1,687.6 L1409.0,676.7 L1408.8,665.8 L1408.7,654.8 L1408.6,643.9 L1408.5,632.9 L1408.4,622.0 L1408.3,611.1 L1408.3,600.1 L1408.2,589.2 L1408.2,578.2 L1408.2,567.3 L1408.2,556.4 L1408.2,545.4 L1408.3,534.5 L1408.4,523.6 L1408.5,512.6 L1408.7,501.7 L1408.9,490.7 L1409.1,479.8 L1409.4,468.9 L1409.7,457.9 Z" fill="#626262"/>
<path d="M1416.2,463.9 L1416.4,475.0 L1416.6,486.1 L1416.8,497.2 L1416.9,508.3 L1417.1,519.4 L1417.2,530.6 L1417.3,541.7 L1417.4,552.8 L1417.5,563.9 L1417.6,575.0 L1417.6,586.1 L1417.7,597.2 L1417.7,608.3 L1417.7,619.4 L1417.7,630.5 L1417.7,641.6 L1417.6,652.7 L1417.5,663.8 L1417.4,674.9 L1417.2,686.0 L1417.0,697.1 L1416.8,708.3 L1416.5,719.4 L1416.2,730.5 L1416.2,730.5 L1416.0,719.4 L1415.7,708.3 L1415.5,697.1 L1415.3,686.0 L1415.1,674.9 L1415.0,663.8 L1414.9,652.7 L1414.8,641.6 L1414.8,630.5 L1414.8,619.4 L1414.8,608.3 L1414.8,597.2 L1414.9,586.1 L1414.9,575.0 L1415.0,563.9 L1415.1,552.8 L1415.2,541.7 L1415.3,530.6 L1415.4,519.4 L1415.6,508.3 L1415.7,497.2 L1415.9,486.1 L1416.1,475.0 L1416.2,463.9 Z" fill="#626262"/>
<path d="M1414.2,497.9 L1414.2,505.1 L1414.3,512.3 L1414.4,519.5 L1414.4,526.7 L1414.5,533.9 L1414.5,541.1 L1414.6,548.2 L1414.7,555.4 L1414.7,562.6 L1414.7,569.8 L1414.8,577.0 L1414.8,584.2 L1414.8,591.4 L1414.7,598.6 L1414.7,605.8 L1414.7,612.9 L1414.6,620.1 L1414.5,627.3 L1414.5,634.5 L1414.4,641.7 L1414.4,648.9 L1414.3,656.1 L1414.2,663.3 L1414.2,670.5 L1414.2,670.5 L1414.1,663.3 L1414.0,656.1 L1413.9,648.9 L1413.9,641.7 L1413.8,634.5 L1413.8,627.3 L1413.7,620.1 L1413.6,612.9 L1413.6,605.8 L1413.6,598.6 L1413.5,591.4 L1413.5,584.2 L1413.5,577.0 L1413.6,569.8 L1413.6,562.6 L1413.6,555.4 L1413.7,548.2 L1413.8,541.1 L1413.8,533.9 L1413.9,526.7 L1413.9,519.5 L1414.0,512.3 L1414.1,505.1 L1414.2,497.9 Z" fill="#fff" opacity=".85"/>
<path d="M1421.0,458.8 L1421.3,470.1 L1421.6,481.4 L1421.8,492.8 L1422.1,504.1 L1422.3,515.4 L1422.4,526.7 L1422.6,538.0 L1422.7,549.4 L1422.8,560.7 L1422.9,572.0 L1422.9,583.3 L1422.9,594.7 L1422.9,606.0 L1422.9,617.3 L1422.8,628.6 L1422.7,640.0 L1422.6,651.3 L1422.4,662.6 L1422.3,673.9 L1422.1,685.3 L1421.8,696.6 L1421.6,707.9 L1421.3,719.2 L1421.0,730.5 L1421.0,730.5 L1420.8,719.2 L1420.5,707.9 L1420.3,696.6 L1420.0,685.3 L1419.8,673.9 L1419.7,662.6 L1419.5,651.3 L1419.4,640.0 L1419.3,628.6 L1419.2,617.3 L1419.2,606.0 L1419.2,594.7 L1419.2,583.3 L1419.2,572.0 L1419.3,560.7 L1419.4,549.4 L1419.5,538.0 L1419.7,526.7 L1419.8,515.4 L1420.0,504.1 L1420.3,492.8 L1420.5,481.4 L1420.8,470.1 L1421.0,458.8 Z" fill="#626262"/>
<path d="M1448.0,459.3 L1448.9,470.7 L1449.6,482.2 L1450.3,493.6 L1450.9,505.0 L1451.5,516.4 L1451.9,527.8 L1452.3,539.2 L1452.6,550.6 L1452.9,562.0 L1453.0,573.4 L1453.1,584.8 L1453.1,596.2 L1453.0,607.7 L1452.9,619.1 L1452.7,630.5 L1452.4,641.9 L1452.1,653.3 L1451.7,664.7 L1451.3,676.1 L1450.7,687.5 L1450.2,698.9 L1449.5,710.3 L1448.8,721.7 L1448.0,733.2 L1448.0,733.2 L1447.2,721.7 L1446.5,710.3 L1445.9,698.9 L1445.3,687.5 L1444.8,676.1 L1444.3,664.7 L1443.9,653.3 L1443.6,641.9 L1443.3,630.5 L1443.1,619.1 L1443.0,607.7 L1442.9,596.2 L1442.9,584.8 L1443.0,573.4 L1443.2,562.0 L1443.4,550.6 L1443.7,539.2 L1444.1,527.8 L1444.6,516.4 L1445.1,505.0 L1445.7,493.6 L1446.4,482.2 L1447.2,470.7 L1448.0,459.3 Z" fill="#626262"/>
<path d="M1444.4,457.3 L1444.7,468.5 L1445.0,479.7 L1445.2,490.8 L1445.4,502.0 L1445.6,513.1 L1445.8,524.3 L1445.9,535.4 L1446.0,546.6 L1446.0,557.8 L1446.0,568.9 L1446.0,580.1 L1446.0,591.2 L1445.9,602.4 L1445.8,613.6 L1445.8,624.7 L1445.7,635.9 L1445.5,647.0 L1445.4,658.2 L1445.3,669.4 L1445.1,680.5 L1445.0,691.7 L1444.8,702.8 L1444.6,714.0 L1444.4,725.2 L1444.4,725.2 L1444.2,714.0 L1444.0,702.8 L1443.8,691.7 L1443.7,680.5 L1443.5,669.4 L1443.4,658.2 L1443.3,647.0 L1443.1,635.9 L1443.0,624.7 L1443.0,613.6 L1442.9,602.4 L1442.8,591.2 L1442.8,580.1 L1442.8,568.9 L1442.8,557.8 L1442.8,546.6 L1442.9,535.4 L1443.0,524.3 L1443.2,513.1 L1443.4,502.0 L1443.6,490.8 L1443.8,479.7 L1444.1,468.5 L1444.4,457.3 Z" fill="#626262"/>
<path d="M1451.6,463.3 L1451.8,474.7 L1452.0,486.0 L1452.2,497.3 L1452.3,508.6 L1452.5,520.0 L1452.6,531.3 L1452.8,542.6 L1452.9,553.9 L1453.0,565.3 L1453.1,576.6 L1453.1,587.9 L1453.2,599.2 L1453.2,610.6 L1453.3,621.9 L1453.2,633.2 L1453.2,644.5 L1453.1,655.9 L1453.0,667.2 L1452.8,678.5 L1452.6,689.9 L1452.4,701.2 L1452.2,712.5 L1451.9,723.8 L1451.6,735.2 L1451.6,735.2 L1451.3,723.8 L1451.1,712.5 L1450.8,701.2 L1450.6,689.9 L1450.4,678.5 L1450.3,667.2 L1450.1,655.9 L1450.0,644.5 L1450.0,633.2 L1450.0,621.9 L1450.0,610.6 L1450.0,599.2 L1450.1,587.9 L1450.2,576.6 L1450.3,565.3 L1450.4,553.9 L1450.5,542.6 L1450.6,531.3 L1450.7,520.0 L1450.9,508.6 L1451.1,497.3 L1451.2,486.0 L1451.4,474.7 L1451.6,463.3 Z" fill="#626262"/>
<path d="M1449.3,497.3 L1449.4,504.7 L1449.5,512.2 L1449.5,519.6 L1449.6,527.0 L1449.7,534.4 L1449.7,541.8 L1449.8,549.2 L1449.8,556.6 L1449.9,564.0 L1449.9,571.4 L1450.0,578.8 L1450.0,586.2 L1450.0,593.7 L1449.9,601.1 L1449.9,608.5 L1449.8,615.9 L1449.8,623.3 L1449.7,630.7 L1449.7,638.1 L1449.6,645.5 L1449.5,652.9 L1449.5,660.3 L1449.4,667.7 L1449.3,675.2 L1449.3,675.2 L1449.3,667.7 L1449.2,660.3 L1449.1,652.9 L1449.1,645.5 L1449.0,638.1 L1448.9,630.7 L1448.9,623.3 L1448.8,615.9 L1448.8,608.5 L1448.7,601.1 L1448.7,593.7 L1448.7,586.2 L1448.7,578.8 L1448.7,571.4 L1448.8,564.0 L1448.8,556.6 L1448.9,549.2 L1448.9,541.8 L1449.0,534.4 L1449.1,527.0 L1449.1,519.6 L1449.2,512.2 L1449.3,504.7 L1449.3,497.3 Z" fill="#fff" opacity=".85"/>
<path d="M1456.9,458.2 L1457.2,469.7 L1457.5,481.3 L1457.7,492.8 L1458.0,504.4 L1458.2,515.9 L1458.4,527.5 L1458.5,539.0 L1458.7,550.6 L1458.8,562.1 L1458.8,573.7 L1458.9,585.2 L1458.9,596.8 L1458.9,608.3 L1458.8,619.9 L1458.8,631.4 L1458.7,643.0 L1458.5,654.5 L1458.4,666.1 L1458.2,677.6 L1458.0,689.1 L1457.7,700.7 L1457.5,712.2 L1457.2,723.8 L1456.9,735.3 L1456.9,735.3 L1456.6,723.8 L1456.3,712.2 L1456.0,700.7 L1455.8,689.1 L1455.6,677.6 L1455.4,666.1 L1455.2,654.5 L1455.1,643.0 L1455.0,631.4 L1454.9,619.9 L1454.8,608.3 L1454.8,596.8 L1454.8,585.2 L1454.9,573.7 L1455.0,562.1 L1455.1,550.6 L1455.2,539.0 L1455.4,527.5 L1455.6,515.9 L1455.8,504.4 L1456.0,492.8 L1456.3,481.3 L1456.6,469.7 L1456.9,458.2 Z" fill="#626262"/>
<path d="M1483.5,458.7 L1484.4,470.4 L1485.1,482.0 L1485.7,493.6 L1486.3,505.3 L1486.8,516.9 L1487.3,528.5 L1487.6,540.2 L1487.9,551.8 L1488.2,563.4 L1488.3,575.1 L1488.4,586.7 L1488.4,598.3 L1488.3,610.0 L1488.2,621.6 L1488.0,633.2 L1487.8,644.9 L1487.5,656.5 L1487.1,668.1 L1486.6,679.8 L1486.2,691.4 L1485.6,703.0 L1485.0,714.6 L1484.3,726.3 L1483.5,737.9 L1483.5,737.9 L1482.8,726.3 L1482.1,714.6 L1481.5,703.0 L1480.9,691.4 L1480.4,679.8 L1480.0,668.1 L1479.6,656.5 L1479.3,644.9 L1479.1,633.2 L1478.9,621.6 L1478.8,610.0 L1478.7,598.3 L1478.7,586.7 L1478.8,575.1 L1478.9,563.4 L1479.2,551.8 L1479.5,540.2 L1479.8,528.5 L1480.3,516.9 L1480.8,505.3 L1481.4,493.6 L1482.0,482.0 L1482.7,470.4 L1483.5,458.7 Z" fill="#626262"/>
<path d="M1480.1,456.7 L1480.4,468.1 L1480.7,479.5 L1480.9,490.9 L1481.1,502.3 L1481.3,513.7 L1481.4,525.0 L1481.5,536.4 L1481.6,547.8 L1481.7,559.2 L1481.7,570.6 L1481.7,581.9 L1481.6,593.3 L1481.6,604.7 L1481.5,616.1 L1481.4,627.5 L1481.3,638.9 L1481.2,650.2 L1481.1,661.6 L1481.0,673.0 L1480.8,684.4 L1480.7,695.8 L1480.5,707.1 L1480.3,718.5 L1480.1,729.9 L1480.1,729.9 L1479.9,718.5 L1479.7,707.1 L1479.6,695.8 L1479.4,684.4 L1479.3,673.0 L1479.1,661.6 L1479.0,650.2 L1478.9,638.9 L1478.8,627.5 L1478.7,616.1 L1478.7,604.7 L1478.6,593.3 L1478.6,581.9 L1478.6,570.6 L1478.6,559.2 L1478.6,547.8 L1478.7,536.4 L1478.8,525.0 L1479.0,513.7 L1479.1,502.3 L1479.4,490.9 L1479.6,479.5 L1479.8,468.1 L1480.1,456.7 Z" fill="#626262"/>
<path d="M1487.0,462.7 L1487.2,474.3 L1487.3,485.8 L1487.5,497.4 L1487.7,508.9 L1487.8,520.5 L1487.9,532.0 L1488.1,543.6 L1488.2,555.1 L1488.3,566.7 L1488.4,578.2 L1488.4,589.8 L1488.5,601.3 L1488.5,612.9 L1488.5,624.4 L1488.5,636.0 L1488.5,647.5 L1488.4,659.1 L1488.3,670.6 L1488.1,682.2 L1487.9,693.7 L1487.7,705.3 L1487.5,716.8 L1487.3,728.4 L1487.0,739.9 L1487.0,739.9 L1486.7,728.4 L1486.4,716.8 L1486.2,705.3 L1486.0,693.7 L1485.8,682.2 L1485.7,670.6 L1485.6,659.1 L1485.5,647.5 L1485.4,636.0 L1485.4,624.4 L1485.4,612.9 L1485.5,601.3 L1485.5,589.8 L1485.6,578.2 L1485.7,566.7 L1485.8,555.1 L1485.9,543.6 L1486.0,532.0 L1486.1,520.5 L1486.3,508.9 L1486.4,497.4 L1486.6,485.8 L1486.8,474.3 L1487.0,462.7 Z" fill="#626262"/>
<path d="M1484.8,496.7 L1484.9,504.4 L1484.9,512.0 L1485.0,519.6 L1485.1,527.3 L1485.1,534.9 L1485.2,542.5 L1485.2,550.2 L1485.3,557.8 L1485.3,565.4 L1485.4,573.1 L1485.4,580.7 L1485.4,588.3 L1485.4,596.0 L1485.4,603.6 L1485.3,611.2 L1485.3,618.9 L1485.2,626.5 L1485.2,634.1 L1485.1,641.8 L1485.1,649.4 L1485.0,657.0 L1484.9,664.6 L1484.9,672.3 L1484.8,679.9 L1484.8,679.9 L1484.7,672.3 L1484.7,664.6 L1484.6,657.0 L1484.5,649.4 L1484.5,641.8 L1484.4,634.1 L1484.3,626.5 L1484.3,618.9 L1484.2,611.2 L1484.2,603.6 L1484.2,596.0 L1484.1,588.3 L1484.2,580.7 L1484.2,573.1 L1484.2,565.4 L1484.3,557.8 L1484.3,550.2 L1484.4,542.5 L1484.5,534.9 L1484.5,527.3 L1484.6,519.6 L1484.7,512.0 L1484.7,504.4 L1484.8,496.7 Z" fill="#fff" opacity=".85"/>
<path d="M1492.0,457.6 L1492.3,469.4 L1492.5,481.1 L1492.8,492.9 L1493.0,504.7 L1493.2,516.5 L1493.4,528.2 L1493.6,540.0 L1493.7,551.8 L1493.8,563.5 L1493.9,575.3 L1493.9,587.1 L1493.9,598.8 L1493.9,610.6 L1493.9,622.4 L1493.8,634.1 L1493.7,645.9 L1493.6,657.7 L1493.4,669.4 L1493.2,681.2 L1493.0,693.0 L1492.8,704.7 L1492.5,716.5 L1492.3,728.3 L1492.0,740.0 L1492.0,740.0 L1491.7,728.3 L1491.4,716.5 L1491.2,704.7 L1490.9,693.0 L1490.7,681.2 L1490.5,669.4 L1490.4,657.7 L1490.3,645.9 L1490.2,634.1 L1490.1,622.4 L1490.0,610.6 L1490.0,598.8 L1490.0,587.1 L1490.1,575.3 L1490.2,563.5 L1490.3,551.8 L1490.4,540.0 L1490.5,528.2 L1490.7,516.5 L1490.9,504.7 L1491.2,492.9 L1491.4,481.1 L1491.7,469.4 L1492.0,457.6 Z" fill="#626262"/>
<path d="M1519.2,458.2 L1520.0,470.0 L1520.7,481.9 L1521.4,493.7 L1521.9,505.6 L1522.4,517.4 L1522.8,529.3 L1523.2,541.1 L1523.5,553.0 L1523.7,564.9 L1523.8,576.7 L1523.9,588.6 L1523.9,600.4 L1523.8,612.3 L1523.7,624.1 L1523.5,636.0 L1523.3,647.8 L1523.0,659.7 L1522.6,671.6 L1522.2,683.4 L1521.8,695.3 L1521.2,707.1 L1520.6,719.0 L1520.0,730.8 L1519.2,742.7 L1519.2,742.7 L1518.5,730.8 L1517.9,719.0 L1517.3,707.1 L1516.7,695.3 L1516.3,683.4 L1515.9,671.6 L1515.5,659.7 L1515.2,647.8 L1515.0,636.0 L1514.8,624.1 L1514.7,612.3 L1514.6,600.4 L1514.6,588.6 L1514.7,576.7 L1514.8,564.9 L1515.0,553.0 L1515.3,541.1 L1515.7,529.3 L1516.1,517.4 L1516.6,505.6 L1517.1,493.7 L1517.8,481.9 L1518.5,470.0 L1519.2,458.2 Z" fill="#626262"/>
<path d="M1516.0,456.2 L1516.2,467.8 L1516.5,479.4 L1516.7,491.0 L1516.9,502.6 L1517.1,514.2 L1517.2,525.8 L1517.3,537.4 L1517.4,549.0 L1517.4,560.6 L1517.4,572.2 L1517.4,583.8 L1517.4,595.4 L1517.3,607.0 L1517.3,618.6 L1517.2,630.2 L1517.1,641.8 L1517.0,653.5 L1516.9,665.1 L1516.8,676.7 L1516.6,688.3 L1516.5,699.9 L1516.3,711.5 L1516.1,723.1 L1516.0,734.7 L1516.0,734.7 L1515.8,723.1 L1515.6,711.5 L1515.4,699.9 L1515.3,688.3 L1515.1,676.7 L1515.0,665.1 L1514.9,653.5 L1514.8,641.8 L1514.7,630.2 L1514.6,618.6 L1514.6,607.0 L1514.5,595.4 L1514.5,583.8 L1514.5,572.2 L1514.5,560.6 L1514.5,549.0 L1514.6,537.4 L1514.7,525.8 L1514.8,514.2 L1515.0,502.6 L1515.2,491.0 L1515.4,479.4 L1515.7,467.8 L1516.0,456.2 Z" fill="#626262"/>
<path d="M1522.5,462.2 L1522.7,473.9 L1522.9,485.7 L1523.1,497.5 L1523.2,509.2 L1523.4,521.0 L1523.5,532.8 L1523.6,544.6 L1523.7,556.3 L1523.8,568.1 L1523.9,579.9 L1523.9,591.7 L1524.0,603.4 L1524.0,615.2 L1524.0,627.0 L1524.0,638.7 L1524.0,650.5 L1523.9,662.3 L1523.8,674.1 L1523.7,685.8 L1523.5,697.6 L1523.3,709.4 L1523.1,721.1 L1522.8,732.9 L1522.5,744.7 L1522.5,744.7 L1522.3,732.9 L1522.0,721.1 L1521.8,709.4 L1521.6,697.6 L1521.4,685.8 L1521.3,674.1 L1521.2,662.3 L1521.1,650.5 L1521.1,638.7 L1521.1,627.0 L1521.1,615.2 L1521.1,603.4 L1521.2,591.7 L1521.2,579.9 L1521.3,568.1 L1521.4,556.3 L1521.5,544.6 L1521.6,532.8 L1521.7,521.0 L1521.9,509.2 L1522.0,497.5 L1522.2,485.7 L1522.4,473.9 L1522.5,462.2 Z" fill="#626262"/>
<path d="M1520.5,496.2 L1520.5,504.0 L1520.6,511.9 L1520.7,519.7 L1520.7,527.6 L1520.8,535.4 L1520.8,543.3 L1520.9,551.1 L1521.0,559.0 L1521.0,566.9 L1521.0,574.7 L1521.1,582.6 L1521.1,590.4 L1521.1,598.3 L1521.0,606.1 L1521.0,614.0 L1521.0,621.8 L1520.9,629.7 L1520.8,637.6 L1520.8,645.4 L1520.7,653.3 L1520.7,661.1 L1520.6,669.0 L1520.5,676.8 L1520.5,684.7 L1520.5,684.7 L1520.4,676.8 L1520.3,669.0 L1520.2,661.1 L1520.2,653.3 L1520.1,645.4 L1520.1,637.6 L1520.0,629.7 L1519.9,621.8 L1519.9,614.0 L1519.9,606.1 L1519.8,598.3 L1519.8,590.4 L1519.8,582.6 L1519.9,574.7 L1519.9,566.9 L1519.9,559.0 L1520.0,551.1 L1520.1,543.3 L1520.1,535.4 L1520.2,527.6 L1520.2,519.7 L1520.3,511.9 L1520.4,504.0 L1520.5,496.2 Z" fill="#fff" opacity=".85"/>
<path d="M1527.3,457.0 L1527.6,469.0 L1527.9,481.0 L1528.1,493.0 L1528.4,505.0 L1528.6,517.0 L1528.7,529.0 L1528.9,541.0 L1529.0,552.9 L1529.1,564.9 L1529.2,576.9 L1529.2,588.9 L1529.2,600.9 L1529.2,612.9 L1529.2,624.9 L1529.1,636.9 L1529.0,648.9 L1528.9,660.9 L1528.7,672.8 L1528.6,684.8 L1528.4,696.8 L1528.1,708.8 L1527.9,720.8 L1527.6,732.8 L1527.3,744.8 L1527.3,744.8 L1527.1,732.8 L1526.8,720.8 L1526.6,708.8 L1526.3,696.8 L1526.1,684.8 L1526.0,672.8 L1525.8,660.9 L1525.7,648.9 L1525.6,636.9 L1525.5,624.9 L1525.5,612.9 L1525.5,600.9 L1525.5,588.9 L1525.5,576.9 L1525.6,564.9 L1525.7,552.9 L1525.8,541.0 L1526.0,529.0 L1526.1,517.0 L1526.3,505.0 L1526.6,493.0 L1526.8,481.0 L1527.1,469.0 L1527.3,457.0 Z" fill="#626262"/>
<path d="M1555.5,457.1 L1556.3,469.2 L1557.1,481.3 L1557.8,493.4 L1558.4,505.5 L1559.0,517.6 L1559.4,529.8 L1559.8,541.9 L1560.1,554.0 L1560.4,566.1 L1560.5,578.2 L1560.6,590.4 L1560.6,602.5 L1560.6,614.6 L1560.4,626.7 L1560.2,638.8 L1560.0,651.0 L1559.6,663.1 L1559.2,675.2 L1558.8,687.3 L1558.2,699.4 L1557.7,711.5 L1557.0,723.7 L1556.3,735.8 L1555.5,747.9 L1555.5,747.9 L1554.7,735.8 L1554.0,723.7 L1553.3,711.5 L1552.7,699.4 L1552.2,687.3 L1551.7,675.2 L1551.3,663.1 L1551.0,651.0 L1550.7,638.8 L1550.5,626.7 L1550.4,614.6 L1550.3,602.5 L1550.3,590.4 L1550.4,578.2 L1550.6,566.1 L1550.8,554.0 L1551.1,541.9 L1551.5,529.8 L1552.0,517.6 L1552.5,505.5 L1553.1,493.4 L1553.8,481.3 L1554.6,469.2 L1555.5,457.1 Z" fill="#626262"/>
<path d="M1551.8,455.1 L1552.1,466.9 L1552.4,478.8 L1552.6,490.7 L1552.9,502.5 L1553.0,514.4 L1553.2,526.3 L1553.3,538.1 L1553.4,550.0 L1553.5,561.9 L1553.5,573.7 L1553.5,585.6 L1553.4,597.5 L1553.4,609.3 L1553.3,621.2 L1553.2,633.1 L1553.1,645.0 L1553.0,656.8 L1552.9,668.7 L1552.7,680.6 L1552.6,692.4 L1552.4,704.3 L1552.2,716.2 L1552.0,728.0 L1551.8,739.9 L1551.8,739.9 L1551.6,728.0 L1551.4,716.2 L1551.3,704.3 L1551.1,692.4 L1550.9,680.6 L1550.8,668.7 L1550.7,656.8 L1550.6,645.0 L1550.5,633.1 L1550.4,621.2 L1550.3,609.3 L1550.2,597.5 L1550.2,585.6 L1550.2,573.7 L1550.2,561.9 L1550.2,550.0 L1550.3,538.1 L1550.5,526.3 L1550.6,514.4 L1550.8,502.5 L1551.0,490.7 L1551.3,478.8 L1551.5,466.9 L1551.8,455.1 Z" fill="#626262"/>
<path d="M1559.1,461.1 L1559.3,473.1 L1559.5,485.1 L1559.7,497.2 L1559.9,509.2 L1560.0,521.2 L1560.2,533.3 L1560.3,545.3 L1560.4,557.3 L1560.5,569.4 L1560.6,581.4 L1560.7,593.4 L1560.7,605.5 L1560.8,617.5 L1560.8,629.5 L1560.8,641.6 L1560.7,653.6 L1560.6,665.7 L1560.5,677.7 L1560.3,689.7 L1560.2,701.8 L1559.9,713.8 L1559.7,725.8 L1559.4,737.9 L1559.1,749.9 L1559.1,749.9 L1558.8,737.9 L1558.6,725.8 L1558.3,713.8 L1558.1,701.8 L1557.9,689.7 L1557.8,677.7 L1557.6,665.7 L1557.5,653.6 L1557.5,641.6 L1557.5,629.5 L1557.5,617.5 L1557.5,605.5 L1557.6,593.4 L1557.7,581.4 L1557.8,569.4 L1557.9,557.3 L1558.0,545.3 L1558.1,533.3 L1558.2,521.2 L1558.4,509.2 L1558.6,497.2 L1558.7,485.1 L1558.9,473.1 L1559.1,461.1 Z" fill="#626262"/>
<path d="M1556.8,495.1 L1556.9,503.2 L1556.9,511.3 L1557.0,519.4 L1557.1,527.5 L1557.1,535.6 L1557.2,543.8 L1557.3,551.9 L1557.3,560.0 L1557.4,568.1 L1557.4,576.2 L1557.4,584.4 L1557.5,592.5 L1557.4,600.6 L1557.4,608.7 L1557.4,616.8 L1557.3,625.0 L1557.3,633.1 L1557.2,641.2 L1557.1,649.3 L1557.1,657.4 L1557.0,665.5 L1556.9,673.7 L1556.9,681.8 L1556.8,689.9 L1556.8,689.9 L1556.7,681.8 L1556.7,673.7 L1556.6,665.5 L1556.5,657.4 L1556.5,649.3 L1556.4,641.2 L1556.4,633.1 L1556.3,625.0 L1556.3,616.8 L1556.2,608.7 L1556.2,600.6 L1556.2,592.5 L1556.2,584.4 L1556.2,576.2 L1556.3,568.1 L1556.3,560.0 L1556.4,551.9 L1556.4,543.8 L1556.5,535.6 L1556.5,527.5 L1556.6,519.4 L1556.7,511.3 L1556.7,503.2 L1556.8,495.1 Z" fill="#fff" opacity=".85"/>
<path d="M1564.4,455.7 L1564.8,468.0 L1565.0,480.3 L1565.3,492.5 L1565.6,504.8 L1565.8,517.1 L1566.0,529.4 L1566.1,541.6 L1566.3,553.9 L1566.4,566.2 L1566.4,578.4 L1566.5,590.7 L1566.5,603.0 L1566.5,615.3 L1566.4,627.5 L1566.4,639.8 L1566.3,652.1 L1566.1,664.3 L1566.0,676.6 L1565.8,688.9 L1565.6,701.2 L1565.3,713.4 L1565.0,725.7 L1564.8,738.0 L1564.4,750.2 L1564.4,750.2 L1564.1,738.0 L1563.8,725.7 L1563.6,713.4 L1563.3,701.2 L1563.1,688.9 L1562.9,676.6 L1562.8,664.3 L1562.6,652.1 L1562.5,639.8 L1562.4,627.5 L1562.4,615.3 L1562.4,603.0 L1562.4,590.7 L1562.4,578.4 L1562.5,566.2 L1562.6,553.9 L1562.8,541.6 L1562.9,529.4 L1563.1,517.1 L1563.3,504.8 L1563.6,492.5 L1563.8,480.3 L1564.1,468.0 L1564.4,455.7 Z" fill="#626262"/>
<path d="M1593.0,455.7 L1593.9,468.1 L1594.6,480.5 L1595.3,492.9 L1595.9,505.3 L1596.5,517.7 L1596.9,530.2 L1597.3,542.6 L1597.6,555.0 L1597.9,567.4 L1598.0,579.8 L1598.1,592.2 L1598.1,604.6 L1598.0,617.0 L1597.9,629.4 L1597.7,641.8 L1597.4,654.2 L1597.1,666.6 L1596.7,679.1 L1596.3,691.5 L1595.7,703.9 L1595.2,716.3 L1594.5,728.7 L1593.8,741.1 L1593.0,753.5 L1593.0,753.5 L1592.2,741.1 L1591.5,728.7 L1590.9,716.3 L1590.3,703.9 L1589.8,691.5 L1589.3,679.1 L1588.9,666.6 L1588.6,654.2 L1588.3,641.8 L1588.1,629.4 L1588.0,617.0 L1587.9,604.6 L1587.9,592.2 L1588.0,579.8 L1588.2,567.4 L1588.4,555.0 L1588.7,542.6 L1589.1,530.2 L1589.6,517.7 L1590.1,505.3 L1590.7,492.9 L1591.4,480.5 L1592.2,468.1 L1593.0,455.7 Z" fill="#626262"/>
<path d="M1589.4,453.7 L1589.7,465.9 L1590.0,478.0 L1590.2,490.2 L1590.4,502.3 L1590.6,514.5 L1590.8,526.7 L1590.9,538.8 L1591.0,551.0 L1591.0,563.1 L1591.0,575.3 L1591.0,587.4 L1591.0,599.6 L1590.9,611.8 L1590.8,623.9 L1590.8,636.1 L1590.7,648.2 L1590.5,660.4 L1590.4,672.6 L1590.3,684.7 L1590.1,696.9 L1590.0,709.0 L1589.8,721.2 L1589.6,733.3 L1589.4,745.5 L1589.4,745.5 L1589.2,733.3 L1589.0,721.2 L1588.8,709.0 L1588.7,696.9 L1588.5,684.7 L1588.4,672.6 L1588.3,660.4 L1588.1,648.2 L1588.0,636.1 L1588.0,623.9 L1587.9,611.8 L1587.8,599.6 L1587.8,587.4 L1587.8,575.3 L1587.8,563.1 L1587.8,551.0 L1587.9,538.8 L1588.0,526.7 L1588.2,514.5 L1588.4,502.3 L1588.6,490.2 L1588.8,478.0 L1589.1,465.9 L1589.4,453.7 Z" fill="#626262"/>
<path d="M1596.6,459.7 L1596.8,472.0 L1597.0,484.4 L1597.2,496.7 L1597.3,509.0 L1597.5,521.3 L1597.6,533.7 L1597.8,546.0 L1597.9,558.3 L1598.0,570.6 L1598.1,583.0 L1598.1,595.3 L1598.2,607.6 L1598.2,619.9 L1598.3,632.3 L1598.2,644.6 L1598.2,656.9 L1598.1,669.2 L1598.0,681.6 L1597.8,693.9 L1597.6,706.2 L1597.4,718.5 L1597.2,730.9 L1596.9,743.2 L1596.6,755.5 L1596.6,755.5 L1596.3,743.2 L1596.1,730.9 L1595.8,718.5 L1595.6,706.2 L1595.4,693.9 L1595.3,681.6 L1595.1,669.2 L1595.0,656.9 L1595.0,644.6 L1595.0,632.3 L1595.0,619.9 L1595.0,607.6 L1595.1,595.3 L1595.2,583.0 L1595.3,570.6 L1595.4,558.3 L1595.5,546.0 L1595.6,533.7 L1595.7,521.3 L1595.9,509.0 L1596.1,496.7 L1596.2,484.4 L1596.4,472.0 L1596.6,459.7 Z" fill="#626262"/>
<path d="M1594.3,493.7 L1594.4,502.1 L1594.5,510.5 L1594.5,518.9 L1594.6,527.3 L1594.7,535.7 L1594.7,544.2 L1594.8,552.6 L1594.8,561.0 L1594.9,569.4 L1594.9,577.8 L1595.0,586.2 L1595.0,594.6 L1595.0,603.0 L1594.9,611.4 L1594.9,619.8 L1594.8,628.2 L1594.8,636.6 L1594.7,645.1 L1594.7,653.5 L1594.6,661.9 L1594.5,670.3 L1594.5,678.7 L1594.4,687.1 L1594.3,695.5 L1594.3,695.5 L1594.3,687.1 L1594.2,678.7 L1594.1,670.3 L1594.1,661.9 L1594.0,653.5 L1593.9,645.1 L1593.9,636.6 L1593.8,628.2 L1593.8,619.8 L1593.7,611.4 L1593.7,603.0 L1593.7,594.6 L1593.7,586.2 L1593.7,577.8 L1593.8,569.4 L1593.8,561.0 L1593.9,552.6 L1593.9,544.2 L1594.0,535.7 L1594.1,527.3 L1594.1,518.9 L1594.2,510.5 L1594.3,502.1 L1594.3,493.7 Z" fill="#fff" opacity=".85"/>
<path d="M1601.9,454.4 L1602.2,466.9 L1602.5,479.5 L1602.7,492.1 L1603.0,504.6 L1603.2,517.2 L1603.4,529.7 L1603.5,542.3 L1603.7,554.9 L1603.8,567.4 L1603.8,580.0 L1603.9,592.5 L1603.9,605.1 L1603.9,617.7 L1603.8,630.2 L1603.8,642.8 L1603.7,655.3 L1603.5,667.9 L1603.4,680.5 L1603.2,693.0 L1603.0,705.6 L1602.7,718.1 L1602.5,730.7 L1602.2,743.3 L1601.9,755.8 L1601.9,755.8 L1601.6,743.3 L1601.3,730.7 L1601.0,718.1 L1600.8,705.6 L1600.6,693.0 L1600.4,680.5 L1600.2,667.9 L1600.1,655.3 L1600.0,642.8 L1599.9,630.2 L1599.8,617.7 L1599.8,605.1 L1599.8,592.5 L1599.9,580.0 L1600.0,567.4 L1600.1,554.9 L1600.2,542.3 L1600.4,529.7 L1600.6,517.2 L1600.8,504.6 L1601.0,492.1 L1601.3,479.5 L1601.6,466.9 L1601.9,454.4 Z" fill="#626262"/>
<path d="M1630.4,454.4 L1631.3,467.1 L1632.0,479.8 L1632.7,492.5 L1633.3,505.2 L1633.9,517.8 L1634.3,530.5 L1634.7,543.2 L1635.0,555.9 L1635.3,568.6 L1635.4,581.3 L1635.5,594.0 L1635.5,606.7 L1635.4,619.4 L1635.3,632.1 L1635.1,644.8 L1634.8,657.5 L1634.5,670.2 L1634.1,682.9 L1633.7,695.6 L1633.1,708.3 L1632.6,721.0 L1631.9,733.7 L1631.2,746.4 L1630.4,759.1 L1630.4,759.1 L1629.6,746.4 L1628.9,733.7 L1628.3,721.0 L1627.7,708.3 L1627.2,695.6 L1626.7,682.9 L1626.3,670.2 L1626.0,657.5 L1625.7,644.8 L1625.5,632.1 L1625.4,619.4 L1625.3,606.7 L1625.3,594.0 L1625.4,581.3 L1625.6,568.6 L1625.8,555.9 L1626.1,543.2 L1626.5,530.5 L1627.0,517.8 L1627.5,505.2 L1628.1,492.5 L1628.8,479.8 L1629.6,467.1 L1630.4,454.4 Z" fill="#626262"/>
<path d="M1626.8,452.4 L1627.1,464.8 L1627.4,477.3 L1627.6,489.7 L1627.8,502.2 L1628.0,514.6 L1628.2,527.0 L1628.3,539.5 L1628.4,551.9 L1628.4,564.4 L1628.4,576.8 L1628.4,589.3 L1628.4,601.7 L1628.3,614.2 L1628.2,626.6 L1628.2,639.1 L1628.1,651.5 L1627.9,664.0 L1627.8,676.4 L1627.7,688.8 L1627.5,701.3 L1627.4,713.7 L1627.2,726.2 L1627.0,738.6 L1626.8,751.1 L1626.8,751.1 L1626.6,738.6 L1626.4,726.2 L1626.2,713.7 L1626.1,701.3 L1625.9,688.8 L1625.8,676.4 L1625.7,664.0 L1625.5,651.5 L1625.4,639.1 L1625.4,626.6 L1625.3,614.2 L1625.2,601.7 L1625.2,589.3 L1625.2,576.8 L1625.2,564.4 L1625.2,551.9 L1625.3,539.5 L1625.4,527.0 L1625.6,514.6 L1625.8,502.2 L1626.0,489.7 L1626.2,477.3 L1626.5,464.8 L1626.8,452.4 Z" fill="#626262"/>
<path d="M1634.0,458.4 L1634.2,471.0 L1634.4,483.6 L1634.6,496.2 L1634.7,508.8 L1634.9,521.4 L1635.0,534.0 L1635.2,546.7 L1635.3,559.3 L1635.4,571.9 L1635.5,584.5 L1635.5,597.1 L1635.6,609.7 L1635.6,622.3 L1635.7,634.9 L1635.6,647.6 L1635.6,660.2 L1635.5,672.8 L1635.4,685.4 L1635.2,698.0 L1635.0,710.6 L1634.8,723.2 L1634.6,735.9 L1634.3,748.5 L1634.0,761.1 L1634.0,761.1 L1633.7,748.5 L1633.5,735.9 L1633.2,723.2 L1633.0,710.6 L1632.8,698.0 L1632.7,685.4 L1632.5,672.8 L1632.4,660.2 L1632.4,647.6 L1632.4,634.9 L1632.4,622.3 L1632.4,609.7 L1632.5,597.1 L1632.6,584.5 L1632.7,571.9 L1632.8,559.3 L1632.9,546.7 L1633.0,534.0 L1633.1,521.4 L1633.3,508.8 L1633.5,496.2 L1633.6,483.6 L1633.8,471.0 L1634.0,458.4 Z" fill="#626262"/>
<path d="M1631.7,492.4 L1631.8,501.1 L1631.9,509.8 L1631.9,518.5 L1632.0,527.2 L1632.1,535.8 L1632.1,544.5 L1632.2,553.2 L1632.2,561.9 L1632.3,570.6 L1632.3,579.3 L1632.4,588.0 L1632.4,596.7 L1632.4,605.4 L1632.3,614.1 L1632.3,622.8 L1632.2,631.5 L1632.2,640.2 L1632.1,648.9 L1632.1,657.6 L1632.0,666.3 L1631.9,675.0 L1631.9,683.7 L1631.8,692.4 L1631.7,701.1 L1631.7,701.1 L1631.7,692.4 L1631.6,683.7 L1631.5,675.0 L1631.5,666.3 L1631.4,657.6 L1631.3,648.9 L1631.3,640.2 L1631.2,631.5 L1631.2,622.8 L1631.1,614.1 L1631.1,605.4 L1631.1,596.7 L1631.1,588.0 L1631.1,579.3 L1631.2,570.6 L1631.2,561.9 L1631.3,553.2 L1631.3,544.5 L1631.4,535.8 L1631.5,527.2 L1631.5,518.5 L1631.6,509.8 L1631.7,501.1 L1631.7,492.4 Z" fill="#fff" opacity=".85"/>
<path d="M1639.3,453.0 L1639.6,465.9 L1639.9,478.7 L1640.1,491.6 L1640.4,504.4 L1640.6,517.3 L1640.8,530.1 L1640.9,543.0 L1641.1,555.8 L1641.2,568.7 L1641.2,581.5 L1641.3,594.4 L1641.3,607.2 L1641.3,620.1 L1641.2,632.9 L1641.2,645.8 L1641.1,658.6 L1640.9,671.5 L1640.8,684.3 L1640.6,697.2 L1640.4,710.0 L1640.1,722.9 L1639.9,735.7 L1639.6,748.6 L1639.3,761.4 L1639.3,761.4 L1639.0,748.6 L1638.7,735.7 L1638.4,722.9 L1638.2,710.0 L1638.0,697.2 L1637.8,684.3 L1637.6,671.5 L1637.5,658.6 L1637.4,645.8 L1637.3,632.9 L1637.2,620.1 L1637.2,607.2 L1637.2,594.4 L1637.3,581.5 L1637.4,568.7 L1637.5,555.8 L1637.6,543.0 L1637.8,530.1 L1638.0,517.3 L1638.2,504.4 L1638.4,491.6 L1638.7,478.7 L1639.0,465.9 L1639.3,453.0 Z" fill="#626262"/>
<path d="M1666.1,452.7 L1667.0,465.7 L1667.7,478.7 L1668.4,491.7 L1669.0,504.7 L1669.6,517.7 L1670.0,530.7 L1670.4,543.6 L1670.7,556.6 L1670.9,569.6 L1671.1,582.6 L1671.2,595.6 L1671.2,608.6 L1671.1,621.6 L1671.0,634.6 L1670.8,647.6 L1670.5,660.6 L1670.2,673.6 L1669.8,686.6 L1669.4,699.6 L1668.8,712.6 L1668.3,725.6 L1667.6,738.6 L1666.9,751.6 L1666.1,764.5 L1666.1,764.5 L1665.4,751.6 L1664.7,738.6 L1664.0,725.6 L1663.4,712.6 L1662.9,699.6 L1662.5,686.6 L1662.1,673.6 L1661.8,660.6 L1661.5,647.6 L1661.3,634.6 L1661.2,621.6 L1661.1,608.6 L1661.1,595.6 L1661.2,582.6 L1661.4,569.6 L1661.6,556.6 L1661.9,543.6 L1662.3,530.7 L1662.7,517.7 L1663.3,504.7 L1663.9,491.7 L1664.6,478.7 L1665.3,465.7 L1666.1,452.7 Z" fill="#626262"/>
<path d="M1662.6,450.7 L1662.9,463.4 L1663.1,476.2 L1663.4,488.9 L1663.6,501.7 L1663.8,514.4 L1663.9,527.2 L1664.0,539.9 L1664.1,552.6 L1664.2,565.4 L1664.2,578.1 L1664.2,590.9 L1664.1,603.6 L1664.1,616.4 L1664.0,629.1 L1663.9,641.8 L1663.8,654.6 L1663.7,667.3 L1663.6,680.1 L1663.5,692.8 L1663.3,705.6 L1663.1,718.3 L1663.0,731.1 L1662.8,743.8 L1662.6,756.5 L1662.6,756.5 L1662.4,743.8 L1662.2,731.1 L1662.0,718.3 L1661.9,705.6 L1661.7,692.8 L1661.6,680.1 L1661.5,667.3 L1661.3,654.6 L1661.2,641.8 L1661.2,629.1 L1661.1,616.4 L1661.0,603.6 L1661.0,590.9 L1661.0,578.1 L1661.0,565.4 L1661.0,552.6 L1661.1,539.9 L1661.2,527.2 L1661.4,514.4 L1661.6,501.7 L1661.8,488.9 L1662.0,476.2 L1662.3,463.4 L1662.6,450.7 Z" fill="#626262"/>
<path d="M1669.7,456.7 L1669.9,469.6 L1670.1,482.5 L1670.3,495.4 L1670.4,508.3 L1670.6,521.2 L1670.7,534.2 L1670.8,547.1 L1671.0,560.0 L1671.1,572.9 L1671.1,585.8 L1671.2,598.7 L1671.3,611.6 L1671.3,624.5 L1671.3,637.4 L1671.3,650.3 L1671.3,663.3 L1671.2,676.2 L1671.1,689.1 L1670.9,702.0 L1670.7,714.9 L1670.5,727.8 L1670.3,740.7 L1670.0,753.6 L1669.7,766.5 L1669.7,766.5 L1669.4,753.6 L1669.2,740.7 L1668.9,727.8 L1668.7,714.9 L1668.5,702.0 L1668.4,689.1 L1668.2,676.2 L1668.2,663.3 L1668.1,650.3 L1668.1,637.4 L1668.1,624.5 L1668.2,611.6 L1668.2,598.7 L1668.3,585.8 L1668.4,572.9 L1668.5,560.0 L1668.6,547.1 L1668.7,534.2 L1668.8,521.2 L1669.0,508.3 L1669.2,495.4 L1669.3,482.5 L1669.5,469.6 L1669.7,456.7 Z" fill="#626262"/>
<path d="M1667.4,490.7 L1667.5,499.7 L1667.6,508.7 L1667.7,517.7 L1667.7,526.7 L1667.8,535.7 L1667.8,544.7 L1667.9,553.6 L1667.9,562.6 L1668.0,571.6 L1668.0,580.6 L1668.1,589.6 L1668.1,598.6 L1668.1,607.6 L1668.0,616.6 L1668.0,625.6 L1667.9,634.6 L1667.9,643.6 L1667.8,652.6 L1667.8,661.6 L1667.7,670.6 L1667.7,679.6 L1667.6,688.6 L1667.5,697.6 L1667.4,706.5 L1667.4,706.5 L1667.4,697.6 L1667.3,688.6 L1667.2,679.6 L1667.2,670.6 L1667.1,661.6 L1667.0,652.6 L1667.0,643.6 L1666.9,634.6 L1666.9,625.6 L1666.8,616.6 L1666.8,607.6 L1666.8,598.6 L1666.8,589.6 L1666.8,580.6 L1666.9,571.6 L1666.9,562.6 L1667.0,553.6 L1667.0,544.7 L1667.1,535.7 L1667.2,526.7 L1667.2,517.7 L1667.3,508.7 L1667.4,499.7 L1667.4,490.7 Z" fill="#fff" opacity=".85"/>
<path d="M1674.9,451.2 L1675.2,464.3 L1675.5,477.5 L1675.7,490.6 L1676.0,503.8 L1676.2,517.0 L1676.4,530.1 L1676.5,543.3 L1676.7,556.4 L1676.8,569.6 L1676.9,582.7 L1676.9,595.9 L1676.9,609.0 L1676.9,622.2 L1676.9,635.4 L1676.8,648.5 L1676.7,661.7 L1676.5,674.8 L1676.4,688.0 L1676.2,701.1 L1676.0,714.3 L1675.7,727.5 L1675.5,740.6 L1675.2,753.8 L1674.9,766.9 L1674.9,766.9 L1674.6,753.8 L1674.3,740.6 L1674.0,727.5 L1673.8,714.3 L1673.6,701.1 L1673.4,688.0 L1673.3,674.8 L1673.1,661.7 L1673.0,648.5 L1672.9,635.4 L1672.9,622.2 L1672.9,609.0 L1672.9,595.9 L1672.9,582.7 L1673.0,569.6 L1673.1,556.4 L1673.3,543.3 L1673.4,530.1 L1673.6,517.0 L1673.8,503.8 L1674.0,490.6 L1674.3,477.5 L1674.6,464.3 L1674.9,451.2 Z" fill="#626262"/>
<path d="M1700.0,450.7 L1700.7,464.0 L1701.4,477.3 L1702.1,490.6 L1702.6,503.9 L1703.1,517.2 L1703.5,530.5 L1703.9,543.8 L1704.2,557.1 L1704.4,570.4 L1704.5,583.7 L1704.6,597.0 L1704.6,610.3 L1704.5,623.6 L1704.4,636.9 L1704.2,650.2 L1704.0,663.5 L1703.7,676.8 L1703.3,690.1 L1702.9,703.4 L1702.5,716.7 L1701.9,730.0 L1701.3,743.3 L1700.7,756.6 L1700.0,769.9 L1700.0,769.9 L1699.2,756.6 L1698.6,743.3 L1698.0,730.0 L1697.4,716.7 L1697.0,703.4 L1696.6,690.1 L1696.2,676.8 L1695.9,663.5 L1695.7,650.2 L1695.5,636.9 L1695.4,623.6 L1695.3,610.3 L1695.3,597.0 L1695.4,583.7 L1695.5,570.4 L1695.7,557.1 L1696.0,543.8 L1696.4,530.5 L1696.8,517.2 L1697.3,503.9 L1697.8,490.6 L1698.5,477.3 L1699.2,464.0 L1700.0,450.7 Z" fill="#626262"/>
<path d="M1696.7,448.7 L1696.9,461.7 L1697.2,474.8 L1697.4,487.8 L1697.6,500.9 L1697.8,513.9 L1697.9,527.0 L1698.0,540.0 L1698.1,553.1 L1698.1,566.1 L1698.1,579.2 L1698.1,592.2 L1698.1,605.3 L1698.0,618.3 L1698.0,631.4 L1697.9,644.4 L1697.8,657.5 L1697.7,670.5 L1697.6,683.6 L1697.5,696.6 L1697.3,709.7 L1697.2,722.7 L1697.0,735.8 L1696.8,748.8 L1696.7,761.9 L1696.7,761.9 L1696.5,748.8 L1696.3,735.8 L1696.1,722.7 L1696.0,709.7 L1695.8,696.6 L1695.7,683.6 L1695.6,670.5 L1695.5,657.5 L1695.4,644.4 L1695.3,631.4 L1695.3,618.3 L1695.2,605.3 L1695.2,592.2 L1695.2,579.2 L1695.2,566.1 L1695.2,553.1 L1695.3,540.0 L1695.4,527.0 L1695.5,513.9 L1695.7,500.9 L1695.9,487.8 L1696.1,474.8 L1696.4,461.7 L1696.7,448.7 Z" fill="#626262"/>
<path d="M1703.2,454.7 L1703.4,467.9 L1703.6,481.1 L1703.8,494.3 L1703.9,507.6 L1704.1,520.8 L1704.2,534.0 L1704.3,547.2 L1704.4,560.4 L1704.5,573.6 L1704.6,586.8 L1704.6,600.1 L1704.7,613.3 L1704.7,626.5 L1704.7,639.7 L1704.7,652.9 L1704.7,666.1 L1704.6,679.4 L1704.5,692.6 L1704.4,705.8 L1704.2,719.0 L1704.0,732.2 L1703.8,745.4 L1703.5,758.7 L1703.2,771.9 L1703.2,771.9 L1703.0,758.7 L1702.7,745.4 L1702.5,732.2 L1702.3,719.0 L1702.1,705.8 L1702.0,692.6 L1701.9,679.4 L1701.8,666.1 L1701.8,652.9 L1701.8,639.7 L1701.8,626.5 L1701.8,613.3 L1701.9,600.1 L1701.9,586.8 L1702.0,573.6 L1702.1,560.4 L1702.2,547.2 L1702.3,534.0 L1702.4,520.8 L1702.6,507.6 L1702.7,494.3 L1702.9,481.1 L1703.1,467.9 L1703.2,454.7 Z" fill="#626262"/>
<path d="M1701.2,488.7 L1701.2,498.0 L1701.3,507.3 L1701.4,516.6 L1701.4,525.9 L1701.5,535.2 L1701.5,544.5 L1701.6,553.8 L1701.7,563.1 L1701.7,572.4 L1701.7,581.7 L1701.8,591.0 L1701.8,600.3 L1701.8,609.6 L1701.7,618.9 L1701.7,628.2 L1701.7,637.5 L1701.6,646.8 L1701.5,656.1 L1701.5,665.4 L1701.4,674.7 L1701.4,684.0 L1701.3,693.3 L1701.2,702.6 L1701.2,711.9 L1701.2,711.9 L1701.1,702.6 L1701.0,693.3 L1700.9,684.0 L1700.9,674.7 L1700.8,665.4 L1700.8,656.1 L1700.7,646.8 L1700.6,637.5 L1700.6,628.2 L1700.6,618.9 L1700.5,609.6 L1700.5,600.3 L1700.5,591.0 L1700.6,581.7 L1700.6,572.4 L1700.6,563.1 L1700.7,553.8 L1700.8,544.5 L1700.8,535.2 L1700.9,525.9 L1700.9,516.6 L1701.0,507.3 L1701.1,498.0 L1701.2,488.7 Z" fill="#fff" opacity=".85"/>
<path d="M1708.0,449.2 L1708.3,462.7 L1708.6,476.1 L1708.8,489.6 L1709.1,503.0 L1709.3,516.5 L1709.4,529.9 L1709.6,543.4 L1709.7,556.9 L1709.8,570.3 L1709.9,583.8 L1709.9,597.2 L1709.9,610.7 L1709.9,624.1 L1709.9,637.6 L1709.8,651.0 L1709.7,664.5 L1709.6,678.0 L1709.4,691.4 L1709.3,704.9 L1709.1,718.3 L1708.8,731.8 L1708.6,745.2 L1708.3,758.7 L1708.0,772.1 L1708.0,772.1 L1707.8,758.7 L1707.5,745.2 L1707.3,731.8 L1707.0,718.3 L1706.8,704.9 L1706.7,691.4 L1706.5,678.0 L1706.4,664.5 L1706.3,651.0 L1706.2,637.6 L1706.2,624.1 L1706.2,610.7 L1706.2,597.2 L1706.2,583.8 L1706.3,570.3 L1706.4,556.9 L1706.5,543.4 L1706.7,529.9 L1706.8,516.5 L1707.0,503.0 L1707.3,489.6 L1707.5,476.1 L1707.8,462.7 L1708.0,449.2 Z" fill="#626262"/>
<path d="M1732.5,448.8 L1733.2,462.4 L1733.8,476.0 L1734.4,489.5 L1734.9,503.1 L1735.3,516.7 L1735.7,530.3 L1736.0,543.9 L1736.2,557.5 L1736.4,571.1 L1736.6,584.7 L1736.6,598.3 L1736.6,611.9 L1736.6,625.5 L1736.5,639.1 L1736.3,652.7 L1736.1,666.3 L1735.8,679.8 L1735.5,693.4 L1735.1,707.0 L1734.7,720.6 L1734.2,734.2 L1733.7,747.8 L1733.1,761.4 L1732.5,775.0 L1732.5,775.0 L1731.8,761.4 L1731.2,747.8 L1730.7,734.2 L1730.2,720.6 L1729.8,707.0 L1729.4,693.4 L1729.1,679.8 L1728.8,666.3 L1728.6,652.7 L1728.4,639.1 L1728.3,625.5 L1728.3,611.9 L1728.3,598.3 L1728.3,584.7 L1728.5,571.1 L1728.7,557.5 L1728.9,543.9 L1729.2,530.3 L1729.6,516.7 L1730.1,503.1 L1730.6,489.5 L1731.1,476.0 L1731.8,462.4 L1732.5,448.8 Z" fill="#626262"/>
<path d="M1729.5,446.8 L1729.7,460.1 L1729.9,473.5 L1730.1,486.8 L1730.3,500.1 L1730.5,513.5 L1730.6,526.8 L1730.7,540.2 L1730.8,553.5 L1730.8,566.9 L1730.8,580.2 L1730.8,593.5 L1730.8,606.9 L1730.7,620.2 L1730.7,633.6 L1730.6,646.9 L1730.5,660.3 L1730.4,673.6 L1730.3,686.9 L1730.2,700.3 L1730.1,713.6 L1729.9,727.0 L1729.8,740.3 L1729.6,753.7 L1729.5,767.0 L1729.5,767.0 L1729.3,753.7 L1729.2,740.3 L1729.0,727.0 L1728.9,713.6 L1728.8,700.3 L1728.6,686.9 L1728.5,673.6 L1728.4,660.3 L1728.4,646.9 L1728.3,633.6 L1728.2,620.2 L1728.2,606.9 L1728.2,593.5 L1728.1,580.2 L1728.1,566.9 L1728.2,553.5 L1728.3,540.2 L1728.4,526.8 L1728.5,513.5 L1728.6,500.1 L1728.8,486.8 L1729.0,473.5 L1729.2,460.1 L1729.5,446.8 Z" fill="#626262"/>
<path d="M1735.4,452.8 L1735.6,466.3 L1735.7,479.8 L1735.9,493.3 L1736.0,506.8 L1736.1,520.3 L1736.3,533.8 L1736.4,547.3 L1736.5,560.8 L1736.5,574.4 L1736.6,587.9 L1736.7,601.4 L1736.7,614.9 L1736.8,628.4 L1736.8,641.9 L1736.8,655.4 L1736.7,668.9 L1736.6,682.4 L1736.5,695.9 L1736.4,709.4 L1736.3,723.0 L1736.1,736.5 L1735.9,750.0 L1735.7,763.5 L1735.4,777.0 L1735.4,777.0 L1735.2,763.5 L1735.0,750.0 L1734.8,736.5 L1734.6,723.0 L1734.4,709.4 L1734.3,695.9 L1734.2,682.4 L1734.1,668.9 L1734.1,655.4 L1734.1,641.9 L1734.1,628.4 L1734.1,614.9 L1734.2,601.4 L1734.2,587.9 L1734.3,574.4 L1734.4,560.8 L1734.5,547.3 L1734.6,533.8 L1734.7,520.3 L1734.8,506.8 L1735.0,493.3 L1735.1,479.8 L1735.3,466.3 L1735.4,452.8 Z" fill="#626262"/>
<path d="M1733.5,486.8 L1733.6,496.4 L1733.7,506.0 L1733.7,515.5 L1733.8,525.1 L1733.9,534.7 L1733.9,544.3 L1734.0,553.9 L1734.0,563.5 L1734.1,573.1 L1734.1,582.7 L1734.2,592.3 L1734.2,601.9 L1734.2,611.5 L1734.1,621.1 L1734.1,630.7 L1734.0,640.3 L1734.0,649.8 L1733.9,659.4 L1733.9,669.0 L1733.8,678.6 L1733.7,688.2 L1733.7,697.8 L1733.6,707.4 L1733.5,717.0 L1733.5,717.0 L1733.5,707.4 L1733.4,697.8 L1733.3,688.2 L1733.3,678.6 L1733.2,669.0 L1733.1,659.4 L1733.1,649.8 L1733.0,640.3 L1733.0,630.7 L1732.9,621.1 L1732.9,611.5 L1732.9,601.9 L1732.9,592.3 L1732.9,582.7 L1733.0,573.1 L1733.0,563.5 L1733.1,553.9 L1733.1,544.3 L1733.2,534.7 L1733.3,525.1 L1733.3,515.5 L1733.4,506.0 L1733.5,496.4 L1733.5,486.8 Z" fill="#fff" opacity=".85"/>
<path d="M1739.7,447.3 L1740.0,461.1 L1740.2,474.8 L1740.5,488.6 L1740.7,502.3 L1740.8,516.0 L1741.0,529.8 L1741.1,543.5 L1741.2,557.3 L1741.3,571.0 L1741.4,584.8 L1741.4,598.5 L1741.4,612.2 L1741.4,626.0 L1741.4,639.7 L1741.3,653.5 L1741.2,667.2 L1741.1,680.9 L1741.0,694.7 L1740.8,708.4 L1740.7,722.2 L1740.5,735.9 L1740.2,749.7 L1740.0,763.4 L1739.7,777.1 L1739.7,777.1 L1739.5,763.4 L1739.3,749.7 L1739.0,735.9 L1738.8,722.2 L1738.7,708.4 L1738.5,694.7 L1738.4,680.9 L1738.3,667.2 L1738.2,653.5 L1738.1,639.7 L1738.1,626.0 L1738.1,612.2 L1738.1,598.5 L1738.1,584.8 L1738.2,571.0 L1738.3,557.3 L1738.4,543.5 L1738.5,529.8 L1738.7,516.0 L1738.8,502.3 L1739.0,488.6 L1739.3,474.8 L1739.5,461.1 L1739.7,447.3 Z" fill="#626262"/>
<path d="M388.0,794.0 C431.7,801.3 564.7,823.6 650.0,838.0 C735.3,852.4 833.3,870.2 900.0,880.5 C966.7,890.8 1005.0,895.1 1050.0,900.0 C1095.0,904.9 1125.0,907.6 1170.0,910.0 C1215.0,912.4 1259.7,914.6 1320.0,914.6 C1380.3,914.6 1477.0,912.6 1532.0,910.0 C1587.0,907.4 1613.8,904.0 1650.0,899.0 C1686.2,894.0 1732.5,883.2 1749.0,880.0" fill="none" stroke="#666" stroke-width="1.2" stroke-linecap="butt" stroke-linejoin="round" />
<path d="M388.0,839.3 C412.3,843.4 490.7,856.7 534.0,864.2 C577.3,871.7 606.7,877.4 648.0,884.3 C689.3,891.2 740.0,898.9 782.0,905.8 C824.0,912.7 868.7,920.6 900.0,925.9 C931.3,931.2 945.1,933.7 970.0,937.5 C994.9,941.3 1024.5,945.7 1049.5,948.8 C1074.5,951.9 1095.1,954.0 1120.0,956.0 C1144.9,958.0 1161.9,959.3 1199.0,960.8 C1236.1,962.3 1318.6,964.5 1342.5,965.2" fill="none" stroke="#626262" stroke-width="6" stroke-linecap="butt" stroke-linejoin="round" />
<path d="M1346.0,960.5 C1361.7,960.2 1409.0,959.9 1440.0,959.0 C1471.0,958.1 1508.7,956.7 1532.0,955.3 C1555.3,953.9 1556.5,952.7 1580.0,950.6 C1603.5,948.5 1649.5,945.1 1672.8,942.5 C1696.1,939.9 1707.1,937.3 1720.0,935.0 C1732.9,932.7 1745.0,929.5 1750.0,928.5 L1750.0,929.5 L1720.0,937.0 L1672.8,945.5 L1580.0,954.6 L1532.0,959.3 L1440.0,963.0 L1346.0,964.5 Z" fill="#626262"/>
<line x1="1346.5" y1="961" x2="1346.5" y2="1111" stroke="#626262" stroke-width="6" stroke-linecap="butt" />
<path d="M1346.0,1108.4 C1361.4,1111.6 1407.6,1121.2 1438.6,1127.3 C1469.6,1133.4 1500.4,1138.7 1532.0,1145.0 C1563.6,1151.3 1600.1,1158.7 1628.0,1165.0 C1655.9,1171.3 1679.0,1177.4 1699.4,1183.0 C1719.8,1188.6 1741.9,1195.9 1750.4,1198.5" fill="none" stroke="#626262" stroke-width="6" stroke-linecap="butt" stroke-linejoin="round" />
<path d="M1377.0,962.9 L1385.0,962.9 L1388.3,1055.3 Q1388.3,1064.3 1381.7,1064.3 Q1375.1,1064.3 1375.1,1055.3 Z" fill="url(#slatLow)"/>
<path d="M1378.5,962.9 L1380.3,962.9 L1379.8,996.9 Z" fill="#fff"/>
<path d="M1381.9,962.9 L1383.8,962.9 L1382.7,1006.9 Z" fill="#fff"/>
<path d="M1387.4,963.9 L1388.8,963.9 L1388.2,1024.9 Z" fill="#626262" opacity=".8"/>
<path d="M1412.5,962.4 L1422.0,962.4 L1423.1,1062.4 Q1423.1,1071.4 1416.5,1071.4 Q1409.9,1071.4 1409.9,1062.4 Z" fill="url(#slatLow)"/>
<path d="M1414.3,962.4 L1416.4,962.4 L1415.8,996.4 Z" fill="#fff"/>
<path d="M1418.3,962.4 L1420.6,962.4 L1419.2,1006.4 Z" fill="#fff"/>
<path d="M1424.4,963.4 L1425.8,963.4 L1425.2,1024.4 Z" fill="#626262" opacity=".8"/>
<path d="M1448.0,961.5 L1457.0,961.5 L1458.6,1069.5 Q1458.6,1078.5 1452.0,1078.5 Q1445.4,1078.5 1445.4,1069.5 Z" fill="url(#slatLow)"/>
<path d="M1449.7,961.5 L1451.7,961.5 L1451.2,995.5 Z" fill="#fff"/>
<path d="M1453.5,961.5 L1455.7,961.5 L1454.4,1005.5 Z" fill="#fff"/>
<path d="M1459.4,962.5 L1460.8,962.5 L1460.2,1023.5 Z" fill="#626262" opacity=".8"/>
<path d="M1483.6,960.1 L1492.6,960.1 L1493.6,1075.5 Q1493.6,1084.5 1487.0,1084.5 Q1480.4,1084.5 1480.4,1075.5 Z" fill="url(#slatLow)"/>
<path d="M1485.3,960.1 L1487.3,960.1 L1486.8,994.1 Z" fill="#fff"/>
<path d="M1489.1,960.1 L1491.2,960.1 L1490.0,1004.1 Z" fill="#fff"/>
<path d="M1495.0,961.1 L1496.4,961.1 L1495.8,1022.1 Z" fill="#626262" opacity=".8"/>
<path d="M1519.0,958.7 L1527.0,958.7 L1528.2,1082.6 Q1528.2,1091.6 1521.6,1091.6 Q1515.0,1091.6 1515.0,1082.6 Z" fill="url(#slatLow)"/>
<path d="M1520.5,958.7 L1522.3,958.7 L1521.8,992.7 Z" fill="#fff"/>
<path d="M1523.9,958.7 L1525.8,958.7 L1524.7,1002.7 Z" fill="#fff"/>
<path d="M1529.4,959.7 L1530.8,959.7 L1530.2,1020.7 Z" fill="#626262" opacity=".8"/>
<path d="M1554.8,955.6 L1565.4,955.6 L1565.6,1089.7 Q1565.6,1098.7 1559.0,1098.7 Q1552.4,1098.7 1552.4,1089.7 Z" fill="url(#slatLow)"/>
<path d="M1556.8,955.6 L1559.1,955.6 L1558.5,989.6 Z" fill="#fff"/>
<path d="M1561.3,955.6 L1563.8,955.6 L1562.3,999.6 Z" fill="#fff"/>
<path d="M1567.8,956.6 L1569.2,956.6 L1568.6,1017.6 Z" fill="#626262" opacity=".8"/>
<path d="M1591.5,952.1 L1602.0,952.1 L1602.6,1096.8 Q1602.6,1105.8 1596.0,1105.8 Q1589.4,1105.8 1589.4,1096.8 Z" fill="url(#slatLow)"/>
<path d="M1593.5,952.1 L1595.8,952.1 L1595.2,986.1 Z" fill="#fff"/>
<path d="M1597.9,952.1 L1600.4,952.1 L1599.0,996.1 Z" fill="#fff"/>
<path d="M1604.4,953.1 L1605.8,953.1 L1605.2,1014.1 Z" fill="#626262" opacity=".8"/>
<path d="M1628.0,948.6 L1639.0,948.6 L1640.6,1104.0 Q1640.6,1113.0 1634.0,1113.0 Q1627.4,1113.0 1627.4,1104.0 Z" fill="url(#slatLow)"/>
<path d="M1630.1,948.6 L1632.5,948.6 L1631.8,982.6 Z" fill="#fff"/>
<path d="M1634.7,948.6 L1637.3,948.6 L1635.8,992.6 Z" fill="#fff"/>
<path d="M1641.4,949.6 L1642.8,949.6 L1642.2,1010.6 Z" fill="#626262" opacity=".8"/>
<path d="M1665.0,943.6 L1675.7,943.6 L1676.6,1111.0 Q1676.6,1120.0 1670.0,1120.0 Q1663.4,1120.0 1663.4,1111.0 Z" fill="url(#slatLow)"/>
<path d="M1667.0,943.6 L1669.4,943.6 L1668.7,977.6 Z" fill="#fff"/>
<path d="M1671.5,943.6 L1674.1,943.6 L1672.6,987.6 Z" fill="#fff"/>
<path d="M1678.1,944.6 L1679.5,944.6 L1678.9,1005.6 Z" fill="#626262" opacity=".8"/>
<path d="M1699.0,938.0 L1709.0,938.0 L1710.6,1119.0 Q1710.6,1128.0 1704.0,1128.0 Q1697.4,1128.0 1697.4,1119.0 Z" fill="url(#slatLow)"/>
<path d="M1700.9,938.0 L1703.1,938.0 L1702.5,972.0 Z" fill="#fff"/>
<path d="M1705.1,938.0 L1707.5,938.0 L1706.1,982.0 Z" fill="#fff"/>
<path d="M1711.4,939.0 L1712.8,939.0 L1712.2,1000.0 Z" fill="#626262" opacity=".8"/>
<path d="M1731.0,932.8 L1739.7,932.8 L1741.6,1129.0 Q1741.6,1138.0 1735.0,1138.0 Q1728.4,1138.0 1728.4,1129.0 Z" fill="url(#slatLow)"/>
<path d="M1732.7,932.8 L1734.6,932.8 L1734.0,966.8 Z" fill="#fff"/>
<path d="M1736.3,932.8 L1738.4,932.8 L1737.2,976.8 Z" fill="#fff"/>
<path d="M1742.1,933.8 L1743.5,933.8 L1742.9,994.8 Z" fill="#626262" opacity=".8"/>
<path d="M1752.6,399 L1755.6,399 L1755.2,1000 L1754.6,1362 L1748,1360 L1748.6,1197 L1751.6,1000 Z" fill="#626262"/>
<path d="M1760.6,401 L1761.8,401 L1762.6,680 L1763.4,800 L1763.3,1000 L1761.6,1090 L1761,1361 L1759.8,1361 L1759.6,1090 L1759,1000 L1759,800 L1759,680 Z" fill="#636363"/>
<rect x="1758.5" y="400" width="4.5" height="260" fill="url(#gW)"/>
<path d="M1860.6,381 L1866.8,381 L1866.8,1282 L1860.3,1282 Z" fill="#626262"/>
<path d="M1863.5,1280.0 C1863.2,1282.8 1863.2,1292.2 1862.0,1297.0 C1860.8,1301.8 1859.9,1304.4 1856.0,1309.0 C1852.1,1313.6 1848.1,1318.7 1838.6,1324.5 C1829.1,1330.3 1811.4,1337.8 1799.0,1344.0 C1786.6,1350.2 1769.8,1359.0 1764.0,1362.0" fill="none" stroke="#626262" stroke-width="6.2" stroke-linecap="round" stroke-linejoin="round" />
<path d="M1748,1357 L1764,1360 L1764,1365 L1750,1364 Z" fill="#626262"/>
<path d="M1785.4,466.2 A3.7,7.4 0 0 1 1792.8,466.2 L1793.7,680 L1794.0,1020 L1794.0,1283.6 A5.0,5.0 0 0 1 1784.0,1283.6 L1784.0,1020 L1784.5,680 Z" fill="#626262" mask="url(#mFadeR)"/>
<path d="M1786.4,467.7 A2.7,5.4 0 0 1 1791.8,467.7 L1791.2,680 L1790.2,1040 L1789.7,1198.6 L1789.3,1260.6 L1788.6,1198.6 L1787.9,1040 L1787.0,680 Z" fill="#fff"/>
<path d="M1809.4,463.2 A3.7,7.4 0 0 1 1816.8,463.2 L1817.9,680 L1818.6,1020 L1818.6,1271.8 A5.2,5.2 0 0 1 1808.2,1271.8 L1808.2,1020 L1808.3,680 Z" fill="#626262" mask="url(#mFadeR)"/>
<path d="M1810.4,464.7 A2.7,5.4 0 0 1 1815.8,464.7 L1815.4,680 L1814.5,1040 L1814.1,1187.0 L1813.7,1249.0 L1813.0,1187.0 L1812.0,1040 L1810.8,680 Z" fill="#fff"/>
<path d="M1828.7,459.5 A3.4,6.9 0 0 1 1835.6,459.5 L1836.7,680 L1836.9,1020 L1836.9,1261.1 A4.9,4.9 0 0 1 1827.1,1261.1 L1827.1,1020 L1827.7,680 Z" fill="#626262" mask="url(#mFadeR)"/>
<path d="M1829.7,461.0 A2.4,4.9 0 0 1 1834.6,461.0 L1834.2,680 L1833.2,1040 L1832.7,1176.0 L1832.3,1238.0 L1831.6,1176.0 L1831.0,1040 L1830.2,680 Z" fill="#fff"/>
<path d="M1843.6,453.9 A3.1,6.2 0 0 1 1849.8,453.9 L1850.3,680 L1850.8,1020 L1850.8,1250.0 A4.0,4.0 0 0 1 1842.8,1250.0 L1842.8,1020 L1843.1,680 Z" fill="#626262" mask="url(#mFadeR)"/>
<path d="M1844.6,455.4 A2.1,4.2 0 0 1 1848.8,455.4 L1847.8,680 L1847.4,1040 L1847.5,1164.0 L1847.1,1226.0 L1846.4,1164.0 L1846.1,1040 L1845.6,680 Z" fill="#fff"/>
<path d="M1854.6,448.0 A2.0,4.0 0 0 1 1858.6,448.0 L1858.8,680 L1859.2,1020 L1859.2,1241.4 A2.6,2.6 0 0 1 1854.0,1241.4 L1854.0,1020 L1854.4,680 Z" fill="#626262" mask="url(#mFadeR)"/>
<path d="M1855.6,449.5 A1.0,2.0 0 0 1 1857.6,449.5 L1857.1,680 L1856.9,1040 L1857.3,1154.0 L1856.9,1216.0 L1856.2,1154.0 L1856.3,1040 L1856.1,680 Z" fill="#fff"/>
<line x1="62.9" y1="124" x2="62.9" y2="337" stroke="#2e2e2e" stroke-width="2" stroke-linecap="butt" />
<line x1="1863.4" y1="124" x2="1863.4" y2="383" stroke="#2e2e2e" stroke-width="2" stroke-linecap="butt" />
<line x1="392.6" y1="1219.3" x2="534" y2="1260" stroke="#111" stroke-width="1.8" stroke-linecap="butt" />
<line x1="1533" y1="1320" x2="1747.5" y2="1361" stroke="#111" stroke-width="1.8" stroke-linecap="butt" />
<line x1="61.6" y1="125.1" x2="1864.5" y2="125.1" stroke="#e41f26" stroke-width="6.2" stroke-linecap="butt" />
<line x1="513.5" y1="370.6" x2="1218.4" y2="332" stroke="#e41f26" stroke-width="6" stroke-linecap="butt" />
<line x1="388" y1="519" x2="1753.5" y2="630" stroke="#e41f26" stroke-width="6" stroke-linecap="butt" />
<line x1="1169.7" y1="459" x2="1169.7" y2="911" stroke="#e41f26" stroke-width="6.2" stroke-linecap="butt" />
<line x1="534" y1="864.5" x2="534" y2="1260.5" stroke="#e41f26" stroke-width="6.2" stroke-linecap="butt" />
<line x1="1532.8" y1="407" x2="1532.8" y2="1320.5" stroke="#e41f26" stroke-width="6.4" stroke-linecap="butt" />
<g transform="translate(868,115) rotate(0)" font-family="Liberation Sans, sans-serif" fill="#0b0b0b"><text x="0" y="0" font-size="53" font-weight="700" stroke="#0b0b0b" stroke-width="0.9" stroke-linejoin="round" textLength="84" lengthAdjust="spacingAndGlyphs">100</text><text x="86" y="0" font-size="57" textLength="86" lengthAdjust="spacingAndGlyphs" stroke="#fff" stroke-width="0.9">cm</text></g>
<g transform="translate(676.5,352.6) rotate(-3.23)" font-family="Liberation Sans, sans-serif" fill="#0b0b0b"><text x="0" y="0" font-size="53" font-weight="700" stroke="#0b0b0b" stroke-width="0.9" stroke-linejoin="round" textLength="57.5" lengthAdjust="spacingAndGlyphs">50</text><text x="59.5" y="0" font-size="57" textLength="84" lengthAdjust="spacingAndGlyphs" stroke="#fff" stroke-width="0.9">cm</text></g>
<g transform="translate(653,529) rotate(4.65)" font-family="Liberation Sans, sans-serif" fill="#0b0b0b"><text x="0" y="0" font-size="53" font-weight="700" stroke="#0b0b0b" stroke-width="0.9" stroke-linejoin="round" textLength="57.5" lengthAdjust="spacingAndGlyphs">65</text><text x="59.5" y="0" font-size="57" textLength="84" lengthAdjust="spacingAndGlyphs" stroke="#fff" stroke-width="0.9">cm</text></g>
<g transform="translate(1182.5,737) rotate(90)" font-family="Liberation Sans, sans-serif" fill="#0b0b0b"><text x="0" y="0" font-size="56.5" font-weight="700" stroke="#0b0b0b" stroke-width="0.9" stroke-linejoin="round" textLength="54" lengthAdjust="spacingAndGlyphs">16</text><text x="56" y="0" font-size="58" textLength="84" lengthAdjust="spacingAndGlyphs" stroke="#fff" stroke-width="0.9">cm</text></g>
<g transform="translate(545.6,1002) rotate(90)" font-family="Liberation Sans, sans-serif" fill="#0b0b0b"><text x="0" y="0" font-size="57" font-weight="700" stroke="#0b0b0b" stroke-width="0.9" stroke-linejoin="round" textLength="57" lengthAdjust="spacingAndGlyphs">20</text><text x="60" y="0" font-size="58" textLength="85" lengthAdjust="spacingAndGlyphs" stroke="#fff" stroke-width="0.9">cm</text></g>
<g transform="translate(1522.8,1298) rotate(-90)" font-family="Liberation Sans, sans-serif" fill="#0b0b0b"><text x="0" y="0" font-size="55" font-weight="700" stroke="#0b0b0b" stroke-width="0.9" stroke-linejoin="round" textLength="57.5" lengthAdjust="spacingAndGlyphs">40</text><text x="59.5" y="0" font-size="57" textLength="84" lengthAdjust="spacingAndGlyphs" stroke="#fff" stroke-width="0.9">cm</text></g>
</svg>
</body></html>
